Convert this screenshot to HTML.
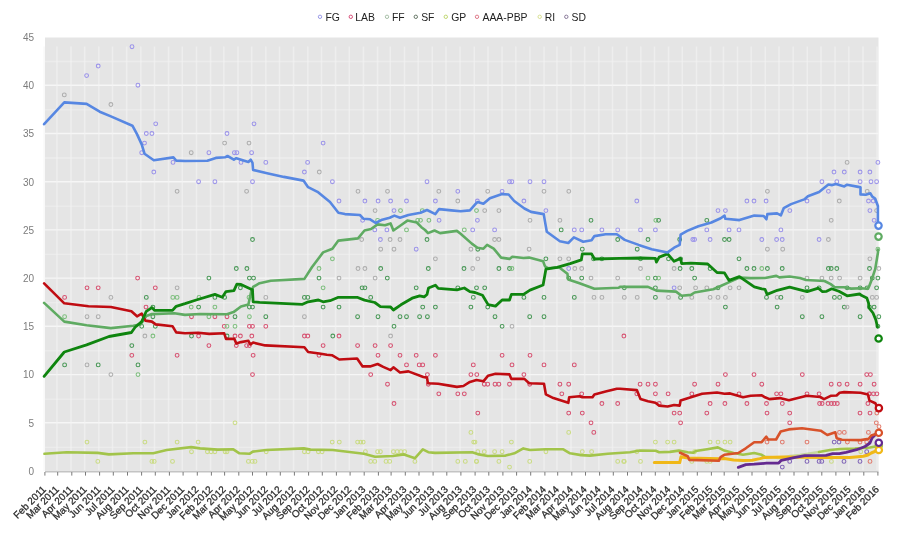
<!DOCTYPE html><html><head><meta charset="utf-8"><style>html,body{margin:0;padding:0;background:#fff;width:900px;height:536px;overflow:hidden}svg{display:block}</style></head><body>
<svg width="900" height="536" viewBox="0 0 900 536" font-family="Liberation Sans, Arial, sans-serif"><g><rect width="900" height="536" fill="#fff"/>
<rect x="45" y="37.5" width="833.5" height="433.5" fill="#e5e5e5"/>
<g><line x1="45" x2="878.5" y1="471.0" y2="471.0" stroke="#f6f6f6" stroke-width="1.4"/><line x1="45" x2="878.5" y1="447.3" y2="447.3" stroke="#f2f2f2" stroke-width="1.3" opacity="0.6"/><line x1="45" x2="878.5" y1="422.8" y2="422.8" stroke="#f6f6f6" stroke-width="1.4"/><line x1="45" x2="878.5" y1="399.1" y2="399.1" stroke="#f2f2f2" stroke-width="1.3" opacity="0.6"/><line x1="45" x2="878.5" y1="374.6" y2="374.6" stroke="#f6f6f6" stroke-width="1.4"/><line x1="45" x2="878.5" y1="350.8" y2="350.8" stroke="#f2f2f2" stroke-width="1.3" opacity="0.6"/><line x1="45" x2="878.5" y1="326.3" y2="326.3" stroke="#f6f6f6" stroke-width="1.4"/><line x1="45" x2="878.5" y1="302.6" y2="302.6" stroke="#f2f2f2" stroke-width="1.3" opacity="0.6"/><line x1="45" x2="878.5" y1="278.1" y2="278.1" stroke="#f6f6f6" stroke-width="1.4"/><line x1="45" x2="878.5" y1="254.4" y2="254.4" stroke="#f2f2f2" stroke-width="1.3" opacity="0.6"/><line x1="45" x2="878.5" y1="229.9" y2="229.9" stroke="#f6f6f6" stroke-width="1.4"/><line x1="45" x2="878.5" y1="206.2" y2="206.2" stroke="#f2f2f2" stroke-width="1.3" opacity="0.6"/><line x1="45" x2="878.5" y1="181.7" y2="181.7" stroke="#f6f6f6" stroke-width="1.4"/><line x1="45" x2="878.5" y1="158.0" y2="158.0" stroke="#f2f2f2" stroke-width="1.3" opacity="0.6"/><line x1="45" x2="878.5" y1="133.5" y2="133.5" stroke="#f6f6f6" stroke-width="1.4"/><line x1="45" x2="878.5" y1="109.8" y2="109.8" stroke="#f2f2f2" stroke-width="1.3" opacity="0.6"/><line x1="45" x2="878.5" y1="85.2" y2="85.2" stroke="#f6f6f6" stroke-width="1.4"/><line x1="45" x2="878.5" y1="61.5" y2="61.5" stroke="#f2f2f2" stroke-width="1.3" opacity="0.6"/><line x1="44.1" x2="44.1" y1="46.5" y2="471" stroke="#f4f4f4" stroke-width="1.5" opacity="0.6"/><line x1="56.9" x2="56.9" y1="46.5" y2="471" stroke="#f4f4f4" stroke-width="1.5" opacity="0.6"/><line x1="71.0" x2="71.0" y1="46.5" y2="471" stroke="#f4f4f4" stroke-width="1.5" opacity="0.6"/><line x1="84.7" x2="84.7" y1="46.5" y2="471" stroke="#f4f4f4" stroke-width="1.5" opacity="0.6"/><line x1="98.8" x2="98.8" y1="46.5" y2="471" stroke="#f4f4f4" stroke-width="1.5" opacity="0.6"/><line x1="112.5" x2="112.5" y1="46.5" y2="471" stroke="#f4f4f4" stroke-width="1.5" opacity="0.6"/><line x1="126.7" x2="126.7" y1="46.5" y2="471" stroke="#f4f4f4" stroke-width="1.5" opacity="0.6"/><line x1="140.8" x2="140.8" y1="46.5" y2="471" stroke="#f4f4f4" stroke-width="1.5" opacity="0.6"/><line x1="154.5" x2="154.5" y1="46.5" y2="471" stroke="#f4f4f4" stroke-width="1.5" opacity="0.6"/><line x1="168.6" x2="168.6" y1="46.5" y2="471" stroke="#f4f4f4" stroke-width="1.5" opacity="0.6"/><line x1="182.3" x2="182.3" y1="46.5" y2="471" stroke="#f4f4f4" stroke-width="1.5" opacity="0.6"/><line x1="196.5" x2="196.5" y1="46.5" y2="471" stroke="#f4f4f4" stroke-width="1.5" opacity="0.6"/><line x1="210.6" x2="210.6" y1="46.5" y2="471" stroke="#f4f4f4" stroke-width="1.5" opacity="0.6"/><line x1="223.8" x2="223.8" y1="46.5" y2="471" stroke="#f4f4f4" stroke-width="1.5" opacity="0.6"/><line x1="238.0" x2="238.0" y1="46.5" y2="471" stroke="#f4f4f4" stroke-width="1.5" opacity="0.6"/><line x1="251.7" x2="251.7" y1="46.5" y2="471" stroke="#f4f4f4" stroke-width="1.5" opacity="0.6"/><line x1="265.8" x2="265.8" y1="46.5" y2="471" stroke="#f4f4f4" stroke-width="1.5" opacity="0.6"/><line x1="279.5" x2="279.5" y1="46.5" y2="471" stroke="#f4f4f4" stroke-width="1.5" opacity="0.6"/><line x1="293.6" x2="293.6" y1="46.5" y2="471" stroke="#f4f4f4" stroke-width="1.5" opacity="0.6"/><line x1="307.8" x2="307.8" y1="46.5" y2="471" stroke="#f4f4f4" stroke-width="1.5" opacity="0.6"/><line x1="321.5" x2="321.5" y1="46.5" y2="471" stroke="#f4f4f4" stroke-width="1.5" opacity="0.6"/><line x1="335.6" x2="335.6" y1="46.5" y2="471" stroke="#f4f4f4" stroke-width="1.5" opacity="0.6"/><line x1="349.3" x2="349.3" y1="46.5" y2="471" stroke="#f4f4f4" stroke-width="1.5" opacity="0.6"/><line x1="363.4" x2="363.4" y1="46.5" y2="471" stroke="#f4f4f4" stroke-width="1.5" opacity="0.6"/><line x1="377.6" x2="377.6" y1="46.5" y2="471" stroke="#f4f4f4" stroke-width="1.5" opacity="0.6"/><line x1="390.3" x2="390.3" y1="46.5" y2="471" stroke="#f4f4f4" stroke-width="1.5" opacity="0.6"/><line x1="404.5" x2="404.5" y1="46.5" y2="471" stroke="#f4f4f4" stroke-width="1.5" opacity="0.6"/><line x1="418.2" x2="418.2" y1="46.5" y2="471" stroke="#f4f4f4" stroke-width="1.5" opacity="0.6"/><line x1="432.3" x2="432.3" y1="46.5" y2="471" stroke="#f4f4f4" stroke-width="1.5" opacity="0.6"/><line x1="446.0" x2="446.0" y1="46.5" y2="471" stroke="#f4f4f4" stroke-width="1.5" opacity="0.6"/><line x1="460.1" x2="460.1" y1="46.5" y2="471" stroke="#f4f4f4" stroke-width="1.5" opacity="0.6"/><line x1="474.3" x2="474.3" y1="46.5" y2="471" stroke="#f4f4f4" stroke-width="1.5" opacity="0.6"/><line x1="488.0" x2="488.0" y1="46.5" y2="471" stroke="#f4f4f4" stroke-width="1.5" opacity="0.6"/><line x1="502.1" x2="502.1" y1="46.5" y2="471" stroke="#f4f4f4" stroke-width="1.5" opacity="0.6"/><line x1="515.8" x2="515.8" y1="46.5" y2="471" stroke="#f4f4f4" stroke-width="1.5" opacity="0.6"/><line x1="529.9" x2="529.9" y1="46.5" y2="471" stroke="#f4f4f4" stroke-width="1.5" opacity="0.6"/><line x1="544.1" x2="544.1" y1="46.5" y2="471" stroke="#f4f4f4" stroke-width="1.5" opacity="0.6"/><line x1="556.9" x2="556.9" y1="46.5" y2="471" stroke="#f4f4f4" stroke-width="1.5" opacity="0.6"/><line x1="571.0" x2="571.0" y1="46.5" y2="471" stroke="#f4f4f4" stroke-width="1.5" opacity="0.6"/><line x1="584.7" x2="584.7" y1="46.5" y2="471" stroke="#f4f4f4" stroke-width="1.5" opacity="0.6"/><line x1="598.8" x2="598.8" y1="46.5" y2="471" stroke="#f4f4f4" stroke-width="1.5" opacity="0.6"/><line x1="612.5" x2="612.5" y1="46.5" y2="471" stroke="#f4f4f4" stroke-width="1.5" opacity="0.6"/><line x1="626.7" x2="626.7" y1="46.5" y2="471" stroke="#f4f4f4" stroke-width="1.5" opacity="0.6"/><line x1="640.8" x2="640.8" y1="46.5" y2="471" stroke="#f4f4f4" stroke-width="1.5" opacity="0.6"/><line x1="654.5" x2="654.5" y1="46.5" y2="471" stroke="#f4f4f4" stroke-width="1.5" opacity="0.6"/><line x1="668.6" x2="668.6" y1="46.5" y2="471" stroke="#f4f4f4" stroke-width="1.5" opacity="0.6"/><line x1="682.3" x2="682.3" y1="46.5" y2="471" stroke="#f4f4f4" stroke-width="1.5" opacity="0.6"/><line x1="696.5" x2="696.5" y1="46.5" y2="471" stroke="#f4f4f4" stroke-width="1.5" opacity="0.6"/><line x1="710.6" x2="710.6" y1="46.5" y2="471" stroke="#f4f4f4" stroke-width="1.5" opacity="0.6"/><line x1="723.4" x2="723.4" y1="46.5" y2="471" stroke="#f4f4f4" stroke-width="1.5" opacity="0.6"/><line x1="737.5" x2="737.5" y1="46.5" y2="471" stroke="#f4f4f4" stroke-width="1.5" opacity="0.6"/><line x1="751.2" x2="751.2" y1="46.5" y2="471" stroke="#f4f4f4" stroke-width="1.5" opacity="0.6"/><line x1="765.3" x2="765.3" y1="46.5" y2="471" stroke="#f4f4f4" stroke-width="1.5" opacity="0.6"/><line x1="779.0" x2="779.0" y1="46.5" y2="471" stroke="#f4f4f4" stroke-width="1.5" opacity="0.6"/><line x1="793.2" x2="793.2" y1="46.5" y2="471" stroke="#f4f4f4" stroke-width="1.5" opacity="0.6"/><line x1="807.3" x2="807.3" y1="46.5" y2="471" stroke="#f4f4f4" stroke-width="1.5" opacity="0.6"/><line x1="821.0" x2="821.0" y1="46.5" y2="471" stroke="#f4f4f4" stroke-width="1.5" opacity="0.6"/><line x1="835.1" x2="835.1" y1="46.5" y2="471" stroke="#f4f4f4" stroke-width="1.5" opacity="0.6"/><line x1="848.8" x2="848.8" y1="46.5" y2="471" stroke="#f4f4f4" stroke-width="1.5" opacity="0.6"/><line x1="863.0" x2="863.0" y1="46.5" y2="471" stroke="#f4f4f4" stroke-width="1.5" opacity="0.6"/><line x1="877.1" x2="877.1" y1="46.5" y2="471" stroke="#f4f4f4" stroke-width="1.5" opacity="0.6"/></g>
<g opacity="0.85"><circle cx="64.3" cy="94.9" r="1.9" fill="none" stroke="#a4a4a4" stroke-width="1.05"/><circle cx="86.6" cy="75.6" r="1.9" fill="none" stroke="#8f86ea" stroke-width="1.05"/><circle cx="98.2" cy="66.0" r="1.9" fill="none" stroke="#8f86ea" stroke-width="1.05"/><circle cx="110.9" cy="104.5" r="1.9" fill="none" stroke="#a4a4a4" stroke-width="1.05"/><circle cx="132.0" cy="46.7" r="1.9" fill="none" stroke="#8f86ea" stroke-width="1.05"/><circle cx="137.9" cy="85.2" r="1.9" fill="none" stroke="#8f86ea" stroke-width="1.05"/><circle cx="155.7" cy="123.8" r="1.9" fill="none" stroke="#8f86ea" stroke-width="1.05"/><circle cx="146.3" cy="133.5" r="1.9" fill="none" stroke="#8f86ea" stroke-width="1.05"/><circle cx="151.9" cy="133.5" r="1.9" fill="none" stroke="#8f86ea" stroke-width="1.05"/><circle cx="144.5" cy="143.1" r="1.9" fill="none" stroke="#8f86ea" stroke-width="1.05"/><circle cx="141.7" cy="152.7" r="1.9" fill="none" stroke="#8f86ea" stroke-width="1.05"/><circle cx="153.8" cy="172.0" r="1.9" fill="none" stroke="#8f86ea" stroke-width="1.05"/><circle cx="173.0" cy="162.4" r="1.9" fill="none" stroke="#8f86ea" stroke-width="1.05"/><circle cx="177.1" cy="191.3" r="1.9" fill="none" stroke="#a4a4a4" stroke-width="1.05"/><circle cx="254.0" cy="123.8" r="1.9" fill="none" stroke="#8f86ea" stroke-width="1.05"/><circle cx="227.0" cy="133.5" r="1.9" fill="none" stroke="#8f86ea" stroke-width="1.05"/><circle cx="224.6" cy="143.1" r="1.9" fill="none" stroke="#a4a4a4" stroke-width="1.05"/><circle cx="249.0" cy="143.1" r="1.9" fill="none" stroke="#a4a4a4" stroke-width="1.05"/><circle cx="323.1" cy="143.1" r="1.9" fill="none" stroke="#8f86ea" stroke-width="1.05"/><circle cx="191.2" cy="152.7" r="1.9" fill="none" stroke="#a4a4a4" stroke-width="1.05"/><circle cx="208.9" cy="152.7" r="1.9" fill="none" stroke="#8f86ea" stroke-width="1.05"/><circle cx="234.4" cy="152.7" r="1.9" fill="none" stroke="#8f86ea" stroke-width="1.05"/><circle cx="236.9" cy="152.7" r="1.9" fill="none" stroke="#8f86ea" stroke-width="1.05"/><circle cx="251.6" cy="152.7" r="1.9" fill="none" stroke="#8f86ea" stroke-width="1.05"/><circle cx="241.0" cy="162.4" r="1.9" fill="none" stroke="#8f86ea" stroke-width="1.05"/><circle cx="265.8" cy="162.4" r="1.9" fill="none" stroke="#8f86ea" stroke-width="1.05"/><circle cx="307.6" cy="162.4" r="1.9" fill="none" stroke="#8f86ea" stroke-width="1.05"/><circle cx="304.4" cy="172.0" r="1.9" fill="none" stroke="#8f86ea" stroke-width="1.05"/><circle cx="319.3" cy="172.0" r="1.9" fill="none" stroke="#a4a4a4" stroke-width="1.05"/><circle cx="198.6" cy="181.7" r="1.9" fill="none" stroke="#8f86ea" stroke-width="1.05"/><circle cx="214.9" cy="181.7" r="1.9" fill="none" stroke="#8f86ea" stroke-width="1.05"/><circle cx="252.5" cy="181.7" r="1.9" fill="none" stroke="#8f86ea" stroke-width="1.05"/><circle cx="332.4" cy="181.7" r="1.9" fill="none" stroke="#8f86ea" stroke-width="1.05"/><circle cx="246.6" cy="191.3" r="1.9" fill="none" stroke="#a4a4a4" stroke-width="1.05"/><circle cx="427.0" cy="181.7" r="1.9" fill="none" stroke="#8f86ea" stroke-width="1.05"/><circle cx="358.0" cy="191.3" r="1.9" fill="none" stroke="#a4a4a4" stroke-width="1.05"/><circle cx="387.5" cy="191.3" r="1.9" fill="none" stroke="#a4a4a4" stroke-width="1.05"/><circle cx="438.8" cy="191.3" r="1.9" fill="none" stroke="#a4a4a4" stroke-width="1.05"/><circle cx="457.8" cy="191.3" r="1.9" fill="none" stroke="#8f86ea" stroke-width="1.05"/><circle cx="339.0" cy="201.0" r="1.9" fill="none" stroke="#8f86ea" stroke-width="1.05"/><circle cx="364.9" cy="201.0" r="1.9" fill="none" stroke="#8f86ea" stroke-width="1.05"/><circle cx="378.1" cy="201.0" r="1.9" fill="none" stroke="#8f86ea" stroke-width="1.05"/><circle cx="390.6" cy="201.0" r="1.9" fill="none" stroke="#8f86ea" stroke-width="1.05"/><circle cx="406.5" cy="201.0" r="1.9" fill="none" stroke="#8f86ea" stroke-width="1.05"/><circle cx="435.4" cy="201.0" r="1.9" fill="none" stroke="#8f86ea" stroke-width="1.05"/><circle cx="457.8" cy="201.0" r="1.9" fill="none" stroke="#a4a4a4" stroke-width="1.05"/><circle cx="477.4" cy="201.0" r="1.9" fill="none" stroke="#8f86ea" stroke-width="1.05"/><circle cx="375.1" cy="210.6" r="1.9" fill="none" stroke="#a4a4a4" stroke-width="1.05"/><circle cx="394.0" cy="210.6" r="1.9" fill="none" stroke="#8f86ea" stroke-width="1.05"/><circle cx="400.5" cy="210.6" r="1.9" fill="none" stroke="#6cb86c" stroke-width="1.05"/><circle cx="422.3" cy="210.6" r="1.9" fill="none" stroke="#6cb86c" stroke-width="1.05"/><circle cx="476.5" cy="210.6" r="1.9" fill="none" stroke="#6cb86c" stroke-width="1.05"/><circle cx="362.6" cy="220.3" r="1.9" fill="none" stroke="#8f86ea" stroke-width="1.05"/><circle cx="377.6" cy="220.3" r="1.9" fill="none" stroke="#6cb86c" stroke-width="1.05"/><circle cx="417.7" cy="220.3" r="1.9" fill="none" stroke="#6cb86c" stroke-width="1.05"/><circle cx="420.5" cy="220.3" r="1.9" fill="none" stroke="#6cb86c" stroke-width="1.05"/><circle cx="428.9" cy="220.3" r="1.9" fill="none" stroke="#6cb86c" stroke-width="1.05"/><circle cx="439.1" cy="220.3" r="1.9" fill="none" stroke="#8f86ea" stroke-width="1.05"/><circle cx="477.4" cy="220.3" r="1.9" fill="none" stroke="#8f86ea" stroke-width="1.05"/><circle cx="509.5" cy="181.7" r="1.9" fill="none" stroke="#8f86ea" stroke-width="1.05"/><circle cx="511.9" cy="181.7" r="1.9" fill="none" stroke="#8f86ea" stroke-width="1.05"/><circle cx="530.0" cy="181.7" r="1.9" fill="none" stroke="#8f86ea" stroke-width="1.05"/><circle cx="544.0" cy="181.7" r="1.9" fill="none" stroke="#8f86ea" stroke-width="1.05"/><circle cx="487.7" cy="191.3" r="1.9" fill="none" stroke="#a4a4a4" stroke-width="1.05"/><circle cx="502.1" cy="191.3" r="1.9" fill="none" stroke="#8f86ea" stroke-width="1.05"/><circle cx="544.0" cy="191.3" r="1.9" fill="none" stroke="#a4a4a4" stroke-width="1.05"/><circle cx="568.8" cy="191.3" r="1.9" fill="none" stroke="#a4a4a4" stroke-width="1.05"/><circle cx="523.9" cy="201.0" r="1.9" fill="none" stroke="#8f86ea" stroke-width="1.05"/><circle cx="484.7" cy="210.6" r="1.9" fill="none" stroke="#a4a4a4" stroke-width="1.05"/><circle cx="498.9" cy="210.6" r="1.9" fill="none" stroke="#a4a4a4" stroke-width="1.05"/><circle cx="545.9" cy="210.6" r="1.9" fill="none" stroke="#8f86ea" stroke-width="1.05"/><circle cx="530.0" cy="220.3" r="1.9" fill="none" stroke="#a4a4a4" stroke-width="1.05"/><circle cx="559.9" cy="220.3" r="1.9" fill="none" stroke="#a4a4a4" stroke-width="1.05"/><circle cx="591.0" cy="220.3" r="1.9" fill="none" stroke="#2e8a3e" stroke-width="1.05"/><circle cx="636.8" cy="201.0" r="1.9" fill="none" stroke="#8f86ea" stroke-width="1.05"/><circle cx="746.9" cy="201.0" r="1.9" fill="none" stroke="#8f86ea" stroke-width="1.05"/><circle cx="754.0" cy="201.0" r="1.9" fill="none" stroke="#8f86ea" stroke-width="1.05"/><circle cx="766.1" cy="201.0" r="1.9" fill="none" stroke="#8f86ea" stroke-width="1.05"/><circle cx="767.4" cy="191.3" r="1.9" fill="none" stroke="#a4a4a4" stroke-width="1.05"/><circle cx="718.0" cy="210.6" r="1.9" fill="none" stroke="#8f86ea" stroke-width="1.05"/><circle cx="725.4" cy="210.6" r="1.9" fill="none" stroke="#8f86ea" stroke-width="1.05"/><circle cx="655.8" cy="220.3" r="1.9" fill="none" stroke="#6cb86c" stroke-width="1.05"/><circle cx="658.6" cy="220.3" r="1.9" fill="none" stroke="#2e8a3e" stroke-width="1.05"/><circle cx="706.8" cy="220.3" r="1.9" fill="none" stroke="#2e8a3e" stroke-width="1.05"/><circle cx="847.1" cy="162.4" r="1.9" fill="none" stroke="#a4a4a4" stroke-width="1.05"/><circle cx="877.9" cy="162.4" r="1.9" fill="none" stroke="#8f86ea" stroke-width="1.05"/><circle cx="834.0" cy="172.0" r="1.9" fill="none" stroke="#8f86ea" stroke-width="1.05"/><circle cx="844.3" cy="172.0" r="1.9" fill="none" stroke="#8f86ea" stroke-width="1.05"/><circle cx="860.1" cy="172.0" r="1.9" fill="none" stroke="#8f86ea" stroke-width="1.05"/><circle cx="869.9" cy="172.0" r="1.9" fill="none" stroke="#8f86ea" stroke-width="1.05"/><circle cx="821.9" cy="181.7" r="1.9" fill="none" stroke="#8f86ea" stroke-width="1.05"/><circle cx="836.8" cy="181.7" r="1.9" fill="none" stroke="#8f86ea" stroke-width="1.05"/><circle cx="860.1" cy="181.7" r="1.9" fill="none" stroke="#8f86ea" stroke-width="1.05"/><circle cx="871.0" cy="181.7" r="1.9" fill="none" stroke="#8f86ea" stroke-width="1.05"/><circle cx="876.6" cy="181.7" r="1.9" fill="none" stroke="#8f86ea" stroke-width="1.05"/><circle cx="828.4" cy="191.3" r="1.9" fill="none" stroke="#8f86ea" stroke-width="1.05"/><circle cx="867.2" cy="191.3" r="1.9" fill="none" stroke="#a4a4a4" stroke-width="1.05"/><circle cx="807.0" cy="201.0" r="1.9" fill="none" stroke="#8f86ea" stroke-width="1.05"/><circle cx="839.3" cy="201.0" r="1.9" fill="none" stroke="#a4a4a4" stroke-width="1.05"/><circle cx="868.5" cy="201.0" r="1.9" fill="none" stroke="#8f86ea" stroke-width="1.05"/><circle cx="873.2" cy="201.0" r="1.9" fill="none" stroke="#8f86ea" stroke-width="1.05"/><circle cx="789.8" cy="210.6" r="1.9" fill="none" stroke="#8f86ea" stroke-width="1.05"/><circle cx="869.9" cy="210.6" r="1.9" fill="none" stroke="#8f86ea" stroke-width="1.05"/><circle cx="876.6" cy="210.6" r="1.9" fill="none" stroke="#a4a4a4" stroke-width="1.05"/><circle cx="831.2" cy="220.3" r="1.9" fill="none" stroke="#a4a4a4" stroke-width="1.05"/><circle cx="874.1" cy="220.3" r="1.9" fill="none" stroke="#8f86ea" stroke-width="1.05"/><circle cx="137.6" cy="278.1" r="1.9" fill="none" stroke="#d43a5e" stroke-width="1.05"/><circle cx="87.0" cy="287.8" r="1.9" fill="none" stroke="#d43a5e" stroke-width="1.05"/><circle cx="98.2" cy="287.8" r="1.9" fill="none" stroke="#d43a5e" stroke-width="1.05"/><circle cx="155.3" cy="287.8" r="1.9" fill="none" stroke="#d43a5e" stroke-width="1.05"/><circle cx="177.1" cy="287.8" r="1.9" fill="none" stroke="#a4a4a4" stroke-width="1.05"/><circle cx="64.6" cy="297.4" r="1.9" fill="none" stroke="#d43a5e" stroke-width="1.05"/><circle cx="110.9" cy="297.4" r="1.9" fill="none" stroke="#a4a4a4" stroke-width="1.05"/><circle cx="146.3" cy="297.4" r="1.9" fill="none" stroke="#2e8a3e" stroke-width="1.05"/><circle cx="172.8" cy="297.4" r="1.9" fill="none" stroke="#6cb86c" stroke-width="1.05"/><circle cx="177.1" cy="297.4" r="1.9" fill="none" stroke="#6cb86c" stroke-width="1.05"/><circle cx="146.0" cy="307.1" r="1.9" fill="none" stroke="#d43a5e" stroke-width="1.05"/><circle cx="152.9" cy="307.1" r="1.9" fill="none" stroke="#2e8a3e" stroke-width="1.05"/><circle cx="64.6" cy="316.7" r="1.9" fill="none" stroke="#6cb86c" stroke-width="1.05"/><circle cx="87.0" cy="316.7" r="1.9" fill="none" stroke="#a4a4a4" stroke-width="1.05"/><circle cx="98.2" cy="316.7" r="1.9" fill="none" stroke="#a4a4a4" stroke-width="1.05"/><circle cx="152.9" cy="316.7" r="1.9" fill="none" stroke="#2e8a3e" stroke-width="1.05"/><circle cx="141.7" cy="326.3" r="1.9" fill="none" stroke="#2e8a3e" stroke-width="1.05"/><circle cx="155.3" cy="326.3" r="1.9" fill="none" stroke="#2e8a3e" stroke-width="1.05"/><circle cx="144.9" cy="336.0" r="1.9" fill="none" stroke="#a4a4a4" stroke-width="1.05"/><circle cx="152.9" cy="336.0" r="1.9" fill="none" stroke="#6cb86c" stroke-width="1.05"/><circle cx="131.8" cy="345.6" r="1.9" fill="none" stroke="#2e8a3e" stroke-width="1.05"/><circle cx="131.8" cy="355.3" r="1.9" fill="none" stroke="#d43a5e" stroke-width="1.05"/><circle cx="177.1" cy="355.3" r="1.9" fill="none" stroke="#d43a5e" stroke-width="1.05"/><circle cx="64.6" cy="364.9" r="1.9" fill="none" stroke="#2e8a3e" stroke-width="1.05"/><circle cx="87.0" cy="364.9" r="1.9" fill="none" stroke="#a4a4a4" stroke-width="1.05"/><circle cx="98.2" cy="364.9" r="1.9" fill="none" stroke="#2e8a3e" stroke-width="1.05"/><circle cx="138.0" cy="364.9" r="1.9" fill="none" stroke="#2e8a3e" stroke-width="1.05"/><circle cx="110.9" cy="374.6" r="1.9" fill="none" stroke="#a4a4a4" stroke-width="1.05"/><circle cx="138.0" cy="374.6" r="1.9" fill="none" stroke="#6cb86c" stroke-width="1.05"/><circle cx="252.5" cy="239.5" r="1.9" fill="none" stroke="#2e8a3e" stroke-width="1.05"/><circle cx="332.4" cy="258.8" r="1.9" fill="none" stroke="#6cb86c" stroke-width="1.05"/><circle cx="236.3" cy="268.5" r="1.9" fill="none" stroke="#2e8a3e" stroke-width="1.05"/><circle cx="246.9" cy="268.5" r="1.9" fill="none" stroke="#2e8a3e" stroke-width="1.05"/><circle cx="319.0" cy="268.5" r="1.9" fill="none" stroke="#6cb86c" stroke-width="1.05"/><circle cx="208.9" cy="278.1" r="1.9" fill="none" stroke="#2e8a3e" stroke-width="1.05"/><circle cx="249.4" cy="278.1" r="1.9" fill="none" stroke="#2e8a3e" stroke-width="1.05"/><circle cx="253.5" cy="278.1" r="1.9" fill="none" stroke="#2e8a3e" stroke-width="1.05"/><circle cx="319.0" cy="278.1" r="1.9" fill="none" stroke="#2e8a3e" stroke-width="1.05"/><circle cx="240.4" cy="287.8" r="1.9" fill="none" stroke="#2e8a3e" stroke-width="1.05"/><circle cx="323.1" cy="287.8" r="1.9" fill="none" stroke="#6cb86c" stroke-width="1.05"/><circle cx="199.0" cy="297.4" r="1.9" fill="none" stroke="#6cb86c" stroke-width="1.05"/><circle cx="214.9" cy="297.4" r="1.9" fill="none" stroke="#2e8a3e" stroke-width="1.05"/><circle cx="224.6" cy="297.4" r="1.9" fill="none" stroke="#2e8a3e" stroke-width="1.05"/><circle cx="249.0" cy="297.4" r="1.9" fill="none" stroke="#6cb86c" stroke-width="1.05"/><circle cx="265.8" cy="297.4" r="1.9" fill="none" stroke="#a4a4a4" stroke-width="1.05"/><circle cx="304.4" cy="297.4" r="1.9" fill="none" stroke="#2e8a3e" stroke-width="1.05"/><circle cx="307.8" cy="297.4" r="1.9" fill="none" stroke="#2e8a3e" stroke-width="1.05"/><circle cx="191.2" cy="307.1" r="1.9" fill="none" stroke="#6cb86c" stroke-width="1.05"/><circle cx="198.6" cy="307.1" r="1.9" fill="none" stroke="#2e8a3e" stroke-width="1.05"/><circle cx="214.9" cy="307.1" r="1.9" fill="none" stroke="#6cb86c" stroke-width="1.05"/><circle cx="249.4" cy="307.1" r="1.9" fill="none" stroke="#2e8a3e" stroke-width="1.05"/><circle cx="252.5" cy="307.1" r="1.9" fill="none" stroke="#2e8a3e" stroke-width="1.05"/><circle cx="323.1" cy="307.1" r="1.9" fill="none" stroke="#2e8a3e" stroke-width="1.05"/><circle cx="191.5" cy="316.7" r="1.9" fill="none" stroke="#d43a5e" stroke-width="1.05"/><circle cx="208.9" cy="316.7" r="1.9" fill="none" stroke="#6cb86c" stroke-width="1.05"/><circle cx="214.9" cy="316.7" r="1.9" fill="none" stroke="#d43a5e" stroke-width="1.05"/><circle cx="227.0" cy="316.7" r="1.9" fill="none" stroke="#d43a5e" stroke-width="1.05"/><circle cx="235.0" cy="316.7" r="1.9" fill="none" stroke="#2e8a3e" stroke-width="1.05"/><circle cx="249.4" cy="316.7" r="1.9" fill="none" stroke="#6cb86c" stroke-width="1.05"/><circle cx="265.8" cy="316.7" r="1.9" fill="none" stroke="#2e8a3e" stroke-width="1.05"/><circle cx="304.4" cy="316.7" r="1.9" fill="none" stroke="#a4a4a4" stroke-width="1.05"/><circle cx="224.2" cy="326.3" r="1.9" fill="none" stroke="#d43a5e" stroke-width="1.05"/><circle cx="227.0" cy="326.3" r="1.9" fill="none" stroke="#6cb86c" stroke-width="1.05"/><circle cx="235.0" cy="326.3" r="1.9" fill="none" stroke="#6cb86c" stroke-width="1.05"/><circle cx="249.4" cy="326.3" r="1.9" fill="none" stroke="#d43a5e" stroke-width="1.05"/><circle cx="252.5" cy="326.3" r="1.9" fill="none" stroke="#d43a5e" stroke-width="1.05"/><circle cx="265.8" cy="326.3" r="1.9" fill="none" stroke="#d43a5e" stroke-width="1.05"/><circle cx="191.5" cy="336.0" r="1.9" fill="none" stroke="#2e8a3e" stroke-width="1.05"/><circle cx="198.6" cy="336.0" r="1.9" fill="none" stroke="#d43a5e" stroke-width="1.05"/><circle cx="227.0" cy="336.0" r="1.9" fill="none" stroke="#2e8a3e" stroke-width="1.05"/><circle cx="235.0" cy="336.0" r="1.9" fill="none" stroke="#d43a5e" stroke-width="1.05"/><circle cx="240.4" cy="336.0" r="1.9" fill="none" stroke="#d43a5e" stroke-width="1.05"/><circle cx="251.8" cy="336.0" r="1.9" fill="none" stroke="#d43a5e" stroke-width="1.05"/><circle cx="304.4" cy="336.0" r="1.9" fill="none" stroke="#d43a5e" stroke-width="1.05"/><circle cx="307.8" cy="336.0" r="1.9" fill="none" stroke="#d43a5e" stroke-width="1.05"/><circle cx="332.8" cy="336.0" r="1.9" fill="none" stroke="#2e8a3e" stroke-width="1.05"/><circle cx="208.9" cy="345.6" r="1.9" fill="none" stroke="#d43a5e" stroke-width="1.05"/><circle cx="236.3" cy="345.6" r="1.9" fill="none" stroke="#d43a5e" stroke-width="1.05"/><circle cx="246.6" cy="345.6" r="1.9" fill="none" stroke="#d43a5e" stroke-width="1.05"/><circle cx="249.4" cy="345.6" r="1.9" fill="none" stroke="#d43a5e" stroke-width="1.05"/><circle cx="323.1" cy="345.6" r="1.9" fill="none" stroke="#d43a5e" stroke-width="1.05"/><circle cx="253.1" cy="355.3" r="1.9" fill="none" stroke="#d43a5e" stroke-width="1.05"/><circle cx="319.0" cy="355.3" r="1.9" fill="none" stroke="#d43a5e" stroke-width="1.05"/><circle cx="252.5" cy="374.6" r="1.9" fill="none" stroke="#d43a5e" stroke-width="1.05"/><circle cx="374.8" cy="229.9" r="1.9" fill="none" stroke="#8f86ea" stroke-width="1.05"/><circle cx="386.9" cy="229.9" r="1.9" fill="none" stroke="#8f86ea" stroke-width="1.05"/><circle cx="406.5" cy="229.9" r="1.9" fill="none" stroke="#6cb86c" stroke-width="1.05"/><circle cx="464.3" cy="229.9" r="1.9" fill="none" stroke="#6cb86c" stroke-width="1.05"/><circle cx="472.7" cy="229.9" r="1.9" fill="none" stroke="#8f86ea" stroke-width="1.05"/><circle cx="361.7" cy="239.5" r="1.9" fill="none" stroke="#a4a4a4" stroke-width="1.05"/><circle cx="380.4" cy="239.5" r="1.9" fill="none" stroke="#8f86ea" stroke-width="1.05"/><circle cx="390.1" cy="239.5" r="1.9" fill="none" stroke="#a4a4a4" stroke-width="1.05"/><circle cx="400.0" cy="239.5" r="1.9" fill="none" stroke="#a4a4a4" stroke-width="1.05"/><circle cx="427.0" cy="239.5" r="1.9" fill="none" stroke="#2e8a3e" stroke-width="1.05"/><circle cx="380.7" cy="249.2" r="1.9" fill="none" stroke="#a4a4a4" stroke-width="1.05"/><circle cx="394.0" cy="249.2" r="1.9" fill="none" stroke="#a4a4a4" stroke-width="1.05"/><circle cx="416.2" cy="249.2" r="1.9" fill="none" stroke="#8f86ea" stroke-width="1.05"/><circle cx="470.9" cy="249.2" r="1.9" fill="none" stroke="#a4a4a4" stroke-width="1.05"/><circle cx="477.8" cy="249.2" r="1.9" fill="none" stroke="#2e8a3e" stroke-width="1.05"/><circle cx="435.4" cy="258.8" r="1.9" fill="none" stroke="#a4a4a4" stroke-width="1.05"/><circle cx="477.8" cy="258.8" r="1.9" fill="none" stroke="#a4a4a4" stroke-width="1.05"/><circle cx="358.0" cy="268.5" r="1.9" fill="none" stroke="#a4a4a4" stroke-width="1.05"/><circle cx="364.9" cy="268.5" r="1.9" fill="none" stroke="#a4a4a4" stroke-width="1.05"/><circle cx="380.7" cy="268.5" r="1.9" fill="none" stroke="#2e8a3e" stroke-width="1.05"/><circle cx="428.3" cy="268.5" r="1.9" fill="none" stroke="#2e8a3e" stroke-width="1.05"/><circle cx="464.0" cy="268.5" r="1.9" fill="none" stroke="#2e8a3e" stroke-width="1.05"/><circle cx="472.7" cy="268.5" r="1.9" fill="none" stroke="#a4a4a4" stroke-width="1.05"/><circle cx="339.0" cy="278.1" r="1.9" fill="none" stroke="#a4a4a4" stroke-width="1.05"/><circle cx="375.1" cy="278.1" r="1.9" fill="none" stroke="#a4a4a4" stroke-width="1.05"/><circle cx="387.3" cy="278.1" r="1.9" fill="none" stroke="#2e8a3e" stroke-width="1.05"/><circle cx="362.1" cy="287.8" r="1.9" fill="none" stroke="#2e8a3e" stroke-width="1.05"/><circle cx="364.9" cy="287.8" r="1.9" fill="none" stroke="#2e8a3e" stroke-width="1.05"/><circle cx="416.2" cy="287.8" r="1.9" fill="none" stroke="#2e8a3e" stroke-width="1.05"/><circle cx="457.8" cy="287.8" r="1.9" fill="none" stroke="#2e8a3e" stroke-width="1.05"/><circle cx="476.5" cy="287.8" r="1.9" fill="none" stroke="#2e8a3e" stroke-width="1.05"/><circle cx="370.7" cy="297.4" r="1.9" fill="none" stroke="#2e8a3e" stroke-width="1.05"/><circle cx="473.3" cy="297.4" r="1.9" fill="none" stroke="#2e8a3e" stroke-width="1.05"/><circle cx="339.0" cy="307.1" r="1.9" fill="none" stroke="#2e8a3e" stroke-width="1.05"/><circle cx="422.7" cy="307.1" r="1.9" fill="none" stroke="#2e8a3e" stroke-width="1.05"/><circle cx="435.4" cy="307.1" r="1.9" fill="none" stroke="#2e8a3e" stroke-width="1.05"/><circle cx="470.9" cy="307.1" r="1.9" fill="none" stroke="#2e8a3e" stroke-width="1.05"/><circle cx="357.6" cy="316.7" r="1.9" fill="none" stroke="#2e8a3e" stroke-width="1.05"/><circle cx="378.0" cy="316.7" r="1.9" fill="none" stroke="#2e8a3e" stroke-width="1.05"/><circle cx="400.0" cy="316.7" r="1.9" fill="none" stroke="#2e8a3e" stroke-width="1.05"/><circle cx="406.5" cy="316.7" r="1.9" fill="none" stroke="#2e8a3e" stroke-width="1.05"/><circle cx="419.6" cy="316.7" r="1.9" fill="none" stroke="#2e8a3e" stroke-width="1.05"/><circle cx="427.4" cy="316.7" r="1.9" fill="none" stroke="#2e8a3e" stroke-width="1.05"/><circle cx="394.0" cy="326.3" r="1.9" fill="none" stroke="#2e8a3e" stroke-width="1.05"/><circle cx="339.0" cy="336.0" r="1.9" fill="none" stroke="#d43a5e" stroke-width="1.05"/><circle cx="390.6" cy="336.0" r="1.9" fill="none" stroke="#a4a4a4" stroke-width="1.05"/><circle cx="357.6" cy="345.6" r="1.9" fill="none" stroke="#d43a5e" stroke-width="1.05"/><circle cx="375.1" cy="345.6" r="1.9" fill="none" stroke="#d43a5e" stroke-width="1.05"/><circle cx="390.6" cy="345.6" r="1.9" fill="none" stroke="#d43a5e" stroke-width="1.05"/><circle cx="378.0" cy="355.3" r="1.9" fill="none" stroke="#d43a5e" stroke-width="1.05"/><circle cx="400.0" cy="355.3" r="1.9" fill="none" stroke="#d43a5e" stroke-width="1.05"/><circle cx="416.2" cy="355.3" r="1.9" fill="none" stroke="#d43a5e" stroke-width="1.05"/><circle cx="435.4" cy="355.3" r="1.9" fill="none" stroke="#d43a5e" stroke-width="1.05"/><circle cx="406.5" cy="364.9" r="1.9" fill="none" stroke="#d43a5e" stroke-width="1.05"/><circle cx="419.2" cy="364.9" r="1.9" fill="none" stroke="#d43a5e" stroke-width="1.05"/><circle cx="422.7" cy="364.9" r="1.9" fill="none" stroke="#d43a5e" stroke-width="1.05"/><circle cx="473.3" cy="364.9" r="1.9" fill="none" stroke="#d43a5e" stroke-width="1.05"/><circle cx="370.7" cy="374.6" r="1.9" fill="none" stroke="#d43a5e" stroke-width="1.05"/><circle cx="427.4" cy="374.6" r="1.9" fill="none" stroke="#d43a5e" stroke-width="1.05"/><circle cx="470.9" cy="374.6" r="1.9" fill="none" stroke="#d43a5e" stroke-width="1.05"/><circle cx="476.8" cy="374.6" r="1.9" fill="none" stroke="#d43a5e" stroke-width="1.05"/><circle cx="387.5" cy="384.2" r="1.9" fill="none" stroke="#d43a5e" stroke-width="1.05"/><circle cx="428.3" cy="384.2" r="1.9" fill="none" stroke="#d43a5e" stroke-width="1.05"/><circle cx="438.8" cy="393.8" r="1.9" fill="none" stroke="#d43a5e" stroke-width="1.05"/><circle cx="457.8" cy="393.8" r="1.9" fill="none" stroke="#d43a5e" stroke-width="1.05"/><circle cx="464.3" cy="393.8" r="1.9" fill="none" stroke="#d43a5e" stroke-width="1.05"/><circle cx="394.0" cy="403.5" r="1.9" fill="none" stroke="#d43a5e" stroke-width="1.05"/><circle cx="477.8" cy="413.1" r="1.9" fill="none" stroke="#d43a5e" stroke-width="1.05"/><circle cx="470.9" cy="432.4" r="1.9" fill="none" stroke="#c6da74" stroke-width="1.05"/><circle cx="332.2" cy="442.1" r="1.9" fill="none" stroke="#c6da74" stroke-width="1.05"/><circle cx="339.3" cy="442.1" r="1.9" fill="none" stroke="#c6da74" stroke-width="1.05"/><circle cx="357.6" cy="442.1" r="1.9" fill="none" stroke="#c6da74" stroke-width="1.05"/><circle cx="360.8" cy="442.1" r="1.9" fill="none" stroke="#c6da74" stroke-width="1.05"/><circle cx="363.2" cy="442.1" r="1.9" fill="none" stroke="#c6da74" stroke-width="1.05"/><circle cx="473.7" cy="442.1" r="1.9" fill="none" stroke="#c6da74" stroke-width="1.05"/><circle cx="365.4" cy="451.7" r="1.9" fill="none" stroke="#c6da74" stroke-width="1.05"/><circle cx="377.6" cy="451.7" r="1.9" fill="none" stroke="#c6da74" stroke-width="1.05"/><circle cx="380.4" cy="451.7" r="1.9" fill="none" stroke="#c6da74" stroke-width="1.05"/><circle cx="393.4" cy="451.7" r="1.9" fill="none" stroke="#c6da74" stroke-width="1.05"/><circle cx="397.2" cy="451.7" r="1.9" fill="none" stroke="#c6da74" stroke-width="1.05"/><circle cx="400.9" cy="451.7" r="1.9" fill="none" stroke="#c6da74" stroke-width="1.05"/><circle cx="404.6" cy="451.7" r="1.9" fill="none" stroke="#c6da74" stroke-width="1.05"/><circle cx="370.7" cy="461.4" r="1.9" fill="none" stroke="#c6da74" stroke-width="1.05"/><circle cx="374.8" cy="461.4" r="1.9" fill="none" stroke="#c6da74" stroke-width="1.05"/><circle cx="386.0" cy="461.4" r="1.9" fill="none" stroke="#c6da74" stroke-width="1.05"/><circle cx="389.7" cy="461.4" r="1.9" fill="none" stroke="#c6da74" stroke-width="1.05"/><circle cx="414.9" cy="461.4" r="1.9" fill="none" stroke="#c6da74" stroke-width="1.05"/><circle cx="457.8" cy="461.4" r="1.9" fill="none" stroke="#c6da74" stroke-width="1.05"/><circle cx="465.3" cy="461.4" r="1.9" fill="none" stroke="#c6da74" stroke-width="1.05"/><circle cx="476.5" cy="461.4" r="1.9" fill="none" stroke="#c6da74" stroke-width="1.05"/><circle cx="87.0" cy="442.1" r="1.9" fill="none" stroke="#c6da74" stroke-width="1.05"/><circle cx="144.9" cy="442.1" r="1.9" fill="none" stroke="#c6da74" stroke-width="1.05"/><circle cx="177.1" cy="442.1" r="1.9" fill="none" stroke="#c6da74" stroke-width="1.05"/><circle cx="97.8" cy="461.4" r="1.9" fill="none" stroke="#c6da74" stroke-width="1.05"/><circle cx="151.9" cy="461.4" r="1.9" fill="none" stroke="#c6da74" stroke-width="1.05"/><circle cx="154.2" cy="461.4" r="1.9" fill="none" stroke="#c6da74" stroke-width="1.05"/><circle cx="172.5" cy="461.4" r="1.9" fill="none" stroke="#c6da74" stroke-width="1.05"/><circle cx="235.0" cy="422.8" r="1.9" fill="none" stroke="#c6da74" stroke-width="1.05"/><circle cx="198.1" cy="442.1" r="1.9" fill="none" stroke="#c6da74" stroke-width="1.05"/><circle cx="191.5" cy="451.7" r="1.9" fill="none" stroke="#c6da74" stroke-width="1.05"/><circle cx="207.4" cy="451.7" r="1.9" fill="none" stroke="#c6da74" stroke-width="1.05"/><circle cx="211.1" cy="451.7" r="1.9" fill="none" stroke="#c6da74" stroke-width="1.05"/><circle cx="214.9" cy="451.7" r="1.9" fill="none" stroke="#c6da74" stroke-width="1.05"/><circle cx="225.1" cy="451.7" r="1.9" fill="none" stroke="#c6da74" stroke-width="1.05"/><circle cx="227.0" cy="451.7" r="1.9" fill="none" stroke="#c6da74" stroke-width="1.05"/><circle cx="266.2" cy="451.7" r="1.9" fill="none" stroke="#c6da74" stroke-width="1.05"/><circle cx="304.4" cy="451.7" r="1.9" fill="none" stroke="#c6da74" stroke-width="1.05"/><circle cx="308.1" cy="451.7" r="1.9" fill="none" stroke="#c6da74" stroke-width="1.05"/><circle cx="318.4" cy="451.7" r="1.9" fill="none" stroke="#c6da74" stroke-width="1.05"/><circle cx="322.1" cy="451.7" r="1.9" fill="none" stroke="#c6da74" stroke-width="1.05"/><circle cx="248.4" cy="461.4" r="1.9" fill="none" stroke="#c6da74" stroke-width="1.05"/><circle cx="252.2" cy="461.4" r="1.9" fill="none" stroke="#c6da74" stroke-width="1.05"/><circle cx="255.0" cy="461.4" r="1.9" fill="none" stroke="#c6da74" stroke-width="1.05"/><circle cx="494.6" cy="229.9" r="1.9" fill="none" stroke="#8f86ea" stroke-width="1.05"/><circle cx="561.2" cy="229.9" r="1.9" fill="none" stroke="#2e8a3e" stroke-width="1.05"/><circle cx="574.3" cy="229.9" r="1.9" fill="none" stroke="#8f86ea" stroke-width="1.05"/><circle cx="581.7" cy="229.9" r="1.9" fill="none" stroke="#8f86ea" stroke-width="1.05"/><circle cx="601.9" cy="229.9" r="1.9" fill="none" stroke="#8f86ea" stroke-width="1.05"/><circle cx="617.7" cy="229.9" r="1.9" fill="none" stroke="#8f86ea" stroke-width="1.05"/><circle cx="494.6" cy="239.5" r="1.9" fill="none" stroke="#a4a4a4" stroke-width="1.05"/><circle cx="498.9" cy="239.5" r="1.9" fill="none" stroke="#a4a4a4" stroke-width="1.05"/><circle cx="617.7" cy="239.5" r="1.9" fill="none" stroke="#2e8a3e" stroke-width="1.05"/><circle cx="529.1" cy="249.2" r="1.9" fill="none" stroke="#a4a4a4" stroke-width="1.05"/><circle cx="582.3" cy="249.2" r="1.9" fill="none" stroke="#2e8a3e" stroke-width="1.05"/><circle cx="545.9" cy="258.8" r="1.9" fill="none" stroke="#2e8a3e" stroke-width="1.05"/><circle cx="559.9" cy="258.8" r="1.9" fill="none" stroke="#a4a4a4" stroke-width="1.05"/><circle cx="568.7" cy="258.8" r="1.9" fill="none" stroke="#a4a4a4" stroke-width="1.05"/><circle cx="593.5" cy="258.8" r="1.9" fill="none" stroke="#2e8a3e" stroke-width="1.05"/><circle cx="601.9" cy="258.8" r="1.9" fill="none" stroke="#2e8a3e" stroke-width="1.05"/><circle cx="498.9" cy="268.5" r="1.9" fill="none" stroke="#2e8a3e" stroke-width="1.05"/><circle cx="509.5" cy="268.5" r="1.9" fill="none" stroke="#2e8a3e" stroke-width="1.05"/><circle cx="511.9" cy="268.5" r="1.9" fill="none" stroke="#6cb86c" stroke-width="1.05"/><circle cx="568.7" cy="268.5" r="1.9" fill="none" stroke="#8f86ea" stroke-width="1.05"/><circle cx="574.8" cy="268.5" r="1.9" fill="none" stroke="#a4a4a4" stroke-width="1.05"/><circle cx="581.7" cy="268.5" r="1.9" fill="none" stroke="#a4a4a4" stroke-width="1.05"/><circle cx="568.7" cy="278.1" r="1.9" fill="none" stroke="#2e8a3e" stroke-width="1.05"/><circle cx="581.7" cy="278.1" r="1.9" fill="none" stroke="#2e8a3e" stroke-width="1.05"/><circle cx="591.0" cy="278.1" r="1.9" fill="none" stroke="#a4a4a4" stroke-width="1.05"/><circle cx="617.7" cy="278.1" r="1.9" fill="none" stroke="#a4a4a4" stroke-width="1.05"/><circle cx="484.7" cy="287.8" r="1.9" fill="none" stroke="#2e8a3e" stroke-width="1.05"/><circle cx="624.3" cy="287.8" r="1.9" fill="none" stroke="#2e8a3e" stroke-width="1.05"/><circle cx="523.9" cy="297.4" r="1.9" fill="none" stroke="#2e8a3e" stroke-width="1.05"/><circle cx="544.0" cy="297.4" r="1.9" fill="none" stroke="#2e8a3e" stroke-width="1.05"/><circle cx="574.3" cy="297.4" r="1.9" fill="none" stroke="#2e8a3e" stroke-width="1.05"/><circle cx="594.0" cy="297.4" r="1.9" fill="none" stroke="#a4a4a4" stroke-width="1.05"/><circle cx="601.9" cy="297.4" r="1.9" fill="none" stroke="#a4a4a4" stroke-width="1.05"/><circle cx="624.3" cy="297.4" r="1.9" fill="none" stroke="#a4a4a4" stroke-width="1.05"/><circle cx="487.7" cy="307.1" r="1.9" fill="none" stroke="#2e8a3e" stroke-width="1.05"/><circle cx="495.0" cy="316.7" r="1.9" fill="none" stroke="#2e8a3e" stroke-width="1.05"/><circle cx="529.7" cy="316.7" r="1.9" fill="none" stroke="#2e8a3e" stroke-width="1.05"/><circle cx="544.0" cy="316.7" r="1.9" fill="none" stroke="#2e8a3e" stroke-width="1.05"/><circle cx="502.1" cy="326.3" r="1.9" fill="none" stroke="#2e8a3e" stroke-width="1.05"/><circle cx="512.0" cy="326.3" r="1.9" fill="none" stroke="#a4a4a4" stroke-width="1.05"/><circle cx="623.9" cy="336.0" r="1.9" fill="none" stroke="#d43a5e" stroke-width="1.05"/><circle cx="502.1" cy="355.3" r="1.9" fill="none" stroke="#d43a5e" stroke-width="1.05"/><circle cx="530.0" cy="355.3" r="1.9" fill="none" stroke="#d43a5e" stroke-width="1.05"/><circle cx="512.0" cy="364.9" r="1.9" fill="none" stroke="#d43a5e" stroke-width="1.05"/><circle cx="544.0" cy="364.9" r="1.9" fill="none" stroke="#d43a5e" stroke-width="1.05"/><circle cx="574.3" cy="364.9" r="1.9" fill="none" stroke="#d43a5e" stroke-width="1.05"/><circle cx="523.9" cy="374.6" r="1.9" fill="none" stroke="#d43a5e" stroke-width="1.05"/><circle cx="484.3" cy="384.2" r="1.9" fill="none" stroke="#d43a5e" stroke-width="1.05"/><circle cx="487.7" cy="384.2" r="1.9" fill="none" stroke="#d43a5e" stroke-width="1.05"/><circle cx="495.0" cy="384.2" r="1.9" fill="none" stroke="#d43a5e" stroke-width="1.05"/><circle cx="498.9" cy="384.2" r="1.9" fill="none" stroke="#d43a5e" stroke-width="1.05"/><circle cx="509.5" cy="384.2" r="1.9" fill="none" stroke="#d43a5e" stroke-width="1.05"/><circle cx="529.7" cy="384.2" r="1.9" fill="none" stroke="#d43a5e" stroke-width="1.05"/><circle cx="559.9" cy="384.2" r="1.9" fill="none" stroke="#d43a5e" stroke-width="1.05"/><circle cx="568.7" cy="384.2" r="1.9" fill="none" stroke="#d43a5e" stroke-width="1.05"/><circle cx="561.8" cy="393.8" r="1.9" fill="none" stroke="#d43a5e" stroke-width="1.05"/><circle cx="581.7" cy="393.8" r="1.9" fill="none" stroke="#d43a5e" stroke-width="1.05"/><circle cx="601.9" cy="403.5" r="1.9" fill="none" stroke="#d43a5e" stroke-width="1.05"/><circle cx="617.7" cy="403.5" r="1.9" fill="none" stroke="#d43a5e" stroke-width="1.05"/><circle cx="568.7" cy="413.1" r="1.9" fill="none" stroke="#d43a5e" stroke-width="1.05"/><circle cx="582.3" cy="413.1" r="1.9" fill="none" stroke="#d43a5e" stroke-width="1.05"/><circle cx="591.0" cy="422.8" r="1.9" fill="none" stroke="#d43a5e" stroke-width="1.05"/><circle cx="568.7" cy="432.4" r="1.9" fill="none" stroke="#c6da74" stroke-width="1.05"/><circle cx="593.8" cy="432.4" r="1.9" fill="none" stroke="#d43a5e" stroke-width="1.05"/><circle cx="511.4" cy="442.1" r="1.9" fill="none" stroke="#c6da74" stroke-width="1.05"/><circle cx="475.0" cy="442.1" r="1.9" fill="none" stroke="#c6da74" stroke-width="1.05"/><circle cx="477.8" cy="451.7" r="1.9" fill="none" stroke="#c6da74" stroke-width="1.05"/><circle cx="484.3" cy="451.7" r="1.9" fill="none" stroke="#c6da74" stroke-width="1.05"/><circle cx="494.6" cy="451.7" r="1.9" fill="none" stroke="#c6da74" stroke-width="1.05"/><circle cx="502.1" cy="451.7" r="1.9" fill="none" stroke="#c6da74" stroke-width="1.05"/><circle cx="545.9" cy="451.7" r="1.9" fill="none" stroke="#c6da74" stroke-width="1.05"/><circle cx="582.3" cy="451.7" r="1.9" fill="none" stroke="#c6da74" stroke-width="1.05"/><circle cx="591.6" cy="451.7" r="1.9" fill="none" stroke="#c6da74" stroke-width="1.05"/><circle cx="476.5" cy="461.4" r="1.9" fill="none" stroke="#c6da74" stroke-width="1.05"/><circle cx="498.9" cy="461.4" r="1.9" fill="none" stroke="#c6da74" stroke-width="1.05"/><circle cx="529.7" cy="461.4" r="1.9" fill="none" stroke="#c6da74" stroke-width="1.05"/><circle cx="617.7" cy="461.4" r="1.9" fill="none" stroke="#c6da74" stroke-width="1.05"/><circle cx="624.3" cy="461.4" r="1.9" fill="none" stroke="#c6da74" stroke-width="1.05"/><circle cx="509.5" cy="467.1" r="1.9" fill="none" stroke="#c6da74" stroke-width="1.05"/><circle cx="640.5" cy="229.9" r="1.9" fill="none" stroke="#8f86ea" stroke-width="1.05"/><circle cx="655.4" cy="229.9" r="1.9" fill="none" stroke="#8f86ea" stroke-width="1.05"/><circle cx="706.8" cy="229.9" r="1.9" fill="none" stroke="#8f86ea" stroke-width="1.05"/><circle cx="729.1" cy="229.9" r="1.9" fill="none" stroke="#8f86ea" stroke-width="1.05"/><circle cx="739.0" cy="229.9" r="1.9" fill="none" stroke="#8f86ea" stroke-width="1.05"/><circle cx="648.0" cy="239.5" r="1.9" fill="none" stroke="#2e8a3e" stroke-width="1.05"/><circle cx="679.7" cy="239.5" r="1.9" fill="none" stroke="#2e8a3e" stroke-width="1.05"/><circle cx="692.8" cy="239.5" r="1.9" fill="none" stroke="#8f86ea" stroke-width="1.05"/><circle cx="694.6" cy="239.5" r="1.9" fill="none" stroke="#8f86ea" stroke-width="1.05"/><circle cx="710.1" cy="239.5" r="1.9" fill="none" stroke="#8f86ea" stroke-width="1.05"/><circle cx="724.5" cy="239.5" r="1.9" fill="none" stroke="#2e8a3e" stroke-width="1.05"/><circle cx="729.1" cy="239.5" r="1.9" fill="none" stroke="#2e8a3e" stroke-width="1.05"/><circle cx="761.8" cy="239.5" r="1.9" fill="none" stroke="#8f86ea" stroke-width="1.05"/><circle cx="637.2" cy="249.2" r="1.9" fill="none" stroke="#2e8a3e" stroke-width="1.05"/><circle cx="767.4" cy="249.2" r="1.9" fill="none" stroke="#a4a4a4" stroke-width="1.05"/><circle cx="640.5" cy="258.8" r="1.9" fill="none" stroke="#2e8a3e" stroke-width="1.05"/><circle cx="668.5" cy="258.8" r="1.9" fill="none" stroke="#2e8a3e" stroke-width="1.05"/><circle cx="680.6" cy="258.8" r="1.9" fill="none" stroke="#2e8a3e" stroke-width="1.05"/><circle cx="739.0" cy="258.8" r="1.9" fill="none" stroke="#2e8a3e" stroke-width="1.05"/><circle cx="640.5" cy="268.5" r="1.9" fill="none" stroke="#a4a4a4" stroke-width="1.05"/><circle cx="674.1" cy="268.5" r="1.9" fill="none" stroke="#a4a4a4" stroke-width="1.05"/><circle cx="680.1" cy="268.5" r="1.9" fill="none" stroke="#2e8a3e" stroke-width="1.05"/><circle cx="691.8" cy="268.5" r="1.9" fill="none" stroke="#2e8a3e" stroke-width="1.05"/><circle cx="710.1" cy="268.5" r="1.9" fill="none" stroke="#2e8a3e" stroke-width="1.05"/><circle cx="746.9" cy="268.5" r="1.9" fill="none" stroke="#2e8a3e" stroke-width="1.05"/><circle cx="754.0" cy="268.5" r="1.9" fill="none" stroke="#2e8a3e" stroke-width="1.05"/><circle cx="761.8" cy="268.5" r="1.9" fill="none" stroke="#6cb86c" stroke-width="1.05"/><circle cx="767.4" cy="268.5" r="1.9" fill="none" stroke="#2e8a3e" stroke-width="1.05"/><circle cx="648.0" cy="278.1" r="1.9" fill="none" stroke="#6cb86c" stroke-width="1.05"/><circle cx="655.4" cy="278.1" r="1.9" fill="none" stroke="#2e8a3e" stroke-width="1.05"/><circle cx="658.6" cy="278.1" r="1.9" fill="none" stroke="#6cb86c" stroke-width="1.05"/><circle cx="694.6" cy="278.1" r="1.9" fill="none" stroke="#2e8a3e" stroke-width="1.05"/><circle cx="655.4" cy="287.8" r="1.9" fill="none" stroke="#2e8a3e" stroke-width="1.05"/><circle cx="674.1" cy="287.8" r="1.9" fill="none" stroke="#8f86ea" stroke-width="1.05"/><circle cx="679.7" cy="287.8" r="1.9" fill="none" stroke="#a4a4a4" stroke-width="1.05"/><circle cx="695.6" cy="287.8" r="1.9" fill="none" stroke="#a4a4a4" stroke-width="1.05"/><circle cx="706.8" cy="287.8" r="1.9" fill="none" stroke="#a4a4a4" stroke-width="1.05"/><circle cx="718.0" cy="287.8" r="1.9" fill="none" stroke="#2e8a3e" stroke-width="1.05"/><circle cx="730.1" cy="287.8" r="1.9" fill="none" stroke="#a4a4a4" stroke-width="1.05"/><circle cx="739.0" cy="287.8" r="1.9" fill="none" stroke="#a4a4a4" stroke-width="1.05"/><circle cx="637.2" cy="297.4" r="1.9" fill="none" stroke="#a4a4a4" stroke-width="1.05"/><circle cx="655.4" cy="297.4" r="1.9" fill="none" stroke="#2e8a3e" stroke-width="1.05"/><circle cx="668.5" cy="297.4" r="1.9" fill="none" stroke="#a4a4a4" stroke-width="1.05"/><circle cx="680.6" cy="297.4" r="1.9" fill="none" stroke="#2e8a3e" stroke-width="1.05"/><circle cx="691.8" cy="297.4" r="1.9" fill="none" stroke="#a4a4a4" stroke-width="1.05"/><circle cx="710.1" cy="297.4" r="1.9" fill="none" stroke="#a4a4a4" stroke-width="1.05"/><circle cx="718.0" cy="297.4" r="1.9" fill="none" stroke="#a4a4a4" stroke-width="1.05"/><circle cx="725.4" cy="297.4" r="1.9" fill="none" stroke="#a4a4a4" stroke-width="1.05"/><circle cx="766.5" cy="297.4" r="1.9" fill="none" stroke="#2e8a3e" stroke-width="1.05"/><circle cx="725.4" cy="307.1" r="1.9" fill="none" stroke="#2e8a3e" stroke-width="1.05"/><circle cx="725.4" cy="374.6" r="1.9" fill="none" stroke="#d43a5e" stroke-width="1.05"/><circle cx="754.0" cy="374.6" r="1.9" fill="none" stroke="#d43a5e" stroke-width="1.05"/><circle cx="640.1" cy="384.2" r="1.9" fill="none" stroke="#d43a5e" stroke-width="1.05"/><circle cx="648.0" cy="384.2" r="1.9" fill="none" stroke="#d43a5e" stroke-width="1.05"/><circle cx="655.4" cy="384.2" r="1.9" fill="none" stroke="#d43a5e" stroke-width="1.05"/><circle cx="694.6" cy="384.2" r="1.9" fill="none" stroke="#d43a5e" stroke-width="1.05"/><circle cx="718.0" cy="384.2" r="1.9" fill="none" stroke="#d43a5e" stroke-width="1.05"/><circle cx="761.8" cy="384.2" r="1.9" fill="none" stroke="#d43a5e" stroke-width="1.05"/><circle cx="655.4" cy="393.8" r="1.9" fill="none" stroke="#d43a5e" stroke-width="1.05"/><circle cx="668.1" cy="393.8" r="1.9" fill="none" stroke="#d43a5e" stroke-width="1.05"/><circle cx="691.8" cy="393.8" r="1.9" fill="none" stroke="#d43a5e" stroke-width="1.05"/><circle cx="739.0" cy="393.8" r="1.9" fill="none" stroke="#d43a5e" stroke-width="1.05"/><circle cx="636.8" cy="393.8" r="1.9" fill="none" stroke="#d43a5e" stroke-width="1.05"/><circle cx="659.2" cy="403.5" r="1.9" fill="none" stroke="#d43a5e" stroke-width="1.05"/><circle cx="710.1" cy="403.5" r="1.9" fill="none" stroke="#d43a5e" stroke-width="1.05"/><circle cx="724.9" cy="403.5" r="1.9" fill="none" stroke="#d43a5e" stroke-width="1.05"/><circle cx="746.9" cy="403.5" r="1.9" fill="none" stroke="#d43a5e" stroke-width="1.05"/><circle cx="766.5" cy="403.5" r="1.9" fill="none" stroke="#d43a5e" stroke-width="1.05"/><circle cx="674.1" cy="413.1" r="1.9" fill="none" stroke="#d43a5e" stroke-width="1.05"/><circle cx="679.7" cy="413.1" r="1.9" fill="none" stroke="#d43a5e" stroke-width="1.05"/><circle cx="706.8" cy="413.1" r="1.9" fill="none" stroke="#d43a5e" stroke-width="1.05"/><circle cx="767.0" cy="413.1" r="1.9" fill="none" stroke="#d43a5e" stroke-width="1.05"/><circle cx="680.6" cy="422.8" r="1.9" fill="none" stroke="#d43a5e" stroke-width="1.05"/><circle cx="655.4" cy="442.1" r="1.9" fill="none" stroke="#c6da74" stroke-width="1.05"/><circle cx="667.6" cy="442.1" r="1.9" fill="none" stroke="#c6da74" stroke-width="1.05"/><circle cx="674.1" cy="442.1" r="1.9" fill="none" stroke="#c6da74" stroke-width="1.05"/><circle cx="710.1" cy="442.1" r="1.9" fill="none" stroke="#c6da74" stroke-width="1.05"/><circle cx="718.0" cy="442.1" r="1.9" fill="none" stroke="#c6da74" stroke-width="1.05"/><circle cx="724.9" cy="442.1" r="1.9" fill="none" stroke="#c6da74" stroke-width="1.05"/><circle cx="730.1" cy="442.1" r="1.9" fill="none" stroke="#c6da74" stroke-width="1.05"/><circle cx="767.0" cy="442.1" r="1.9" fill="none" stroke="#e06a5a" stroke-width="1.05"/><circle cx="636.8" cy="451.7" r="1.9" fill="none" stroke="#c6da74" stroke-width="1.05"/><circle cx="694.6" cy="451.7" r="1.9" fill="none" stroke="#c6da74" stroke-width="1.05"/><circle cx="623.7" cy="461.4" r="1.9" fill="none" stroke="#c6da74" stroke-width="1.05"/><circle cx="640.5" cy="461.4" r="1.9" fill="none" stroke="#c6da74" stroke-width="1.05"/><circle cx="691.8" cy="461.4" r="1.9" fill="none" stroke="#c6da74" stroke-width="1.05"/><circle cx="706.8" cy="461.4" r="1.9" fill="none" stroke="#c6da74" stroke-width="1.05"/><circle cx="710.1" cy="461.4" r="1.9" fill="none" stroke="#c6da74" stroke-width="1.05"/><circle cx="780.9" cy="229.9" r="1.9" fill="none" stroke="#8f86ea" stroke-width="1.05"/><circle cx="776.6" cy="239.5" r="1.9" fill="none" stroke="#8f86ea" stroke-width="1.05"/><circle cx="782.2" cy="239.5" r="1.9" fill="none" stroke="#8f86ea" stroke-width="1.05"/><circle cx="819.1" cy="239.5" r="1.9" fill="none" stroke="#8f86ea" stroke-width="1.05"/><circle cx="828.4" cy="239.5" r="1.9" fill="none" stroke="#a4a4a4" stroke-width="1.05"/><circle cx="782.7" cy="249.2" r="1.9" fill="none" stroke="#a4a4a4" stroke-width="1.05"/><circle cx="877.9" cy="249.2" r="1.9" fill="none" stroke="#6cb86c" stroke-width="1.05"/><circle cx="869.9" cy="258.8" r="1.9" fill="none" stroke="#a4a4a4" stroke-width="1.05"/><circle cx="782.2" cy="268.5" r="1.9" fill="none" stroke="#2e8a3e" stroke-width="1.05"/><circle cx="828.4" cy="268.5" r="1.9" fill="none" stroke="#2e8a3e" stroke-width="1.05"/><circle cx="831.2" cy="268.5" r="1.9" fill="none" stroke="#2e8a3e" stroke-width="1.05"/><circle cx="836.8" cy="268.5" r="1.9" fill="none" stroke="#2e8a3e" stroke-width="1.05"/><circle cx="869.5" cy="268.5" r="1.9" fill="none" stroke="#2e8a3e" stroke-width="1.05"/><circle cx="878.8" cy="268.5" r="1.9" fill="none" stroke="#a4a4a4" stroke-width="1.05"/><circle cx="807.0" cy="278.1" r="1.9" fill="none" stroke="#a4a4a4" stroke-width="1.05"/><circle cx="821.9" cy="278.1" r="1.9" fill="none" stroke="#a4a4a4" stroke-width="1.05"/><circle cx="831.2" cy="278.1" r="1.9" fill="none" stroke="#a4a4a4" stroke-width="1.05"/><circle cx="839.6" cy="278.1" r="1.9" fill="none" stroke="#a4a4a4" stroke-width="1.05"/><circle cx="860.1" cy="278.1" r="1.9" fill="none" stroke="#a4a4a4" stroke-width="1.05"/><circle cx="872.3" cy="278.1" r="1.9" fill="none" stroke="#2e8a3e" stroke-width="1.05"/><circle cx="877.9" cy="278.1" r="1.9" fill="none" stroke="#2e8a3e" stroke-width="1.05"/><circle cx="807.0" cy="287.8" r="1.9" fill="none" stroke="#2e8a3e" stroke-width="1.05"/><circle cx="819.1" cy="287.8" r="1.9" fill="none" stroke="#2e8a3e" stroke-width="1.05"/><circle cx="847.1" cy="287.8" r="1.9" fill="none" stroke="#2e8a3e" stroke-width="1.05"/><circle cx="860.1" cy="287.8" r="1.9" fill="none" stroke="#2e8a3e" stroke-width="1.05"/><circle cx="867.2" cy="287.8" r="1.9" fill="none" stroke="#2e8a3e" stroke-width="1.05"/><circle cx="876.6" cy="287.8" r="1.9" fill="none" stroke="#2e8a3e" stroke-width="1.05"/><circle cx="777.1" cy="297.4" r="1.9" fill="none" stroke="#a4a4a4" stroke-width="1.05"/><circle cx="780.9" cy="297.4" r="1.9" fill="none" stroke="#2e8a3e" stroke-width="1.05"/><circle cx="802.3" cy="297.4" r="1.9" fill="none" stroke="#a4a4a4" stroke-width="1.05"/><circle cx="834.4" cy="297.4" r="1.9" fill="none" stroke="#2e8a3e" stroke-width="1.05"/><circle cx="839.6" cy="297.4" r="1.9" fill="none" stroke="#2e8a3e" stroke-width="1.05"/><circle cx="872.3" cy="297.4" r="1.9" fill="none" stroke="#a4a4a4" stroke-width="1.05"/><circle cx="876.6" cy="297.4" r="1.9" fill="none" stroke="#a4a4a4" stroke-width="1.05"/><circle cx="777.1" cy="307.1" r="1.9" fill="none" stroke="#2e8a3e" stroke-width="1.05"/><circle cx="844.3" cy="307.1" r="1.9" fill="none" stroke="#2e8a3e" stroke-width="1.05"/><circle cx="847.1" cy="307.1" r="1.9" fill="none" stroke="#a4a4a4" stroke-width="1.05"/><circle cx="869.5" cy="307.1" r="1.9" fill="none" stroke="#2e8a3e" stroke-width="1.05"/><circle cx="874.1" cy="307.1" r="1.9" fill="none" stroke="#2e8a3e" stroke-width="1.05"/><circle cx="802.3" cy="316.7" r="1.9" fill="none" stroke="#2e8a3e" stroke-width="1.05"/><circle cx="821.9" cy="316.7" r="1.9" fill="none" stroke="#2e8a3e" stroke-width="1.05"/><circle cx="860.1" cy="316.7" r="1.9" fill="none" stroke="#2e8a3e" stroke-width="1.05"/><circle cx="878.8" cy="316.7" r="1.9" fill="none" stroke="#2e8a3e" stroke-width="1.05"/><circle cx="877.9" cy="326.3" r="1.9" fill="none" stroke="#2e8a3e" stroke-width="1.05"/><circle cx="802.3" cy="374.6" r="1.9" fill="none" stroke="#d43a5e" stroke-width="1.05"/><circle cx="866.7" cy="374.6" r="1.9" fill="none" stroke="#d43a5e" stroke-width="1.05"/><circle cx="870.4" cy="374.6" r="1.9" fill="none" stroke="#d43a5e" stroke-width="1.05"/><circle cx="831.2" cy="384.2" r="1.9" fill="none" stroke="#d43a5e" stroke-width="1.05"/><circle cx="839.3" cy="384.2" r="1.9" fill="none" stroke="#d43a5e" stroke-width="1.05"/><circle cx="847.1" cy="384.2" r="1.9" fill="none" stroke="#d43a5e" stroke-width="1.05"/><circle cx="860.1" cy="384.2" r="1.9" fill="none" stroke="#d43a5e" stroke-width="1.05"/><circle cx="874.1" cy="384.2" r="1.9" fill="none" stroke="#d43a5e" stroke-width="1.05"/><circle cx="776.6" cy="393.8" r="1.9" fill="none" stroke="#d43a5e" stroke-width="1.05"/><circle cx="780.9" cy="393.8" r="1.9" fill="none" stroke="#d43a5e" stroke-width="1.05"/><circle cx="807.0" cy="393.8" r="1.9" fill="none" stroke="#d43a5e" stroke-width="1.05"/><circle cx="819.1" cy="393.8" r="1.9" fill="none" stroke="#d43a5e" stroke-width="1.05"/><circle cx="869.5" cy="393.8" r="1.9" fill="none" stroke="#d43a5e" stroke-width="1.05"/><circle cx="876.9" cy="393.8" r="1.9" fill="none" stroke="#d43a5e" stroke-width="1.05"/><circle cx="869.2" cy="393.8" r="1.9" fill="none" stroke="#d43a5e" stroke-width="1.05"/><circle cx="873.5" cy="393.8" r="1.9" fill="none" stroke="#d43a5e" stroke-width="1.05"/><circle cx="782.3" cy="403.5" r="1.9" fill="none" stroke="#d43a5e" stroke-width="1.05"/><circle cx="819.6" cy="403.5" r="1.9" fill="none" stroke="#d43a5e" stroke-width="1.05"/><circle cx="822.1" cy="403.5" r="1.9" fill="none" stroke="#d43a5e" stroke-width="1.05"/><circle cx="828.0" cy="403.5" r="1.9" fill="none" stroke="#d43a5e" stroke-width="1.05"/><circle cx="831.4" cy="403.5" r="1.9" fill="none" stroke="#d43a5e" stroke-width="1.05"/><circle cx="834.2" cy="403.5" r="1.9" fill="none" stroke="#d43a5e" stroke-width="1.05"/><circle cx="837.3" cy="403.5" r="1.9" fill="none" stroke="#d43a5e" stroke-width="1.05"/><circle cx="867.9" cy="403.5" r="1.9" fill="none" stroke="#d43a5e" stroke-width="1.05"/><circle cx="789.7" cy="413.1" r="1.9" fill="none" stroke="#d43a5e" stroke-width="1.05"/><circle cx="860.0" cy="413.1" r="1.9" fill="none" stroke="#d43a5e" stroke-width="1.05"/><circle cx="870.0" cy="413.1" r="1.9" fill="none" stroke="#d43a5e" stroke-width="1.05"/><circle cx="876.8" cy="413.1" r="1.9" fill="none" stroke="#e06a5a" stroke-width="1.05"/><circle cx="789.7" cy="422.8" r="1.9" fill="none" stroke="#d43a5e" stroke-width="1.05"/><circle cx="876.3" cy="422.8" r="1.9" fill="none" stroke="#e06a5a" stroke-width="1.05"/><circle cx="879.0" cy="426.6" r="1.9" fill="none" stroke="#e06a5a" stroke-width="1.05"/><circle cx="839.5" cy="432.4" r="1.9" fill="none" stroke="#e06a5a" stroke-width="1.05"/><circle cx="844.3" cy="432.4" r="1.9" fill="none" stroke="#e06a5a" stroke-width="1.05"/><circle cx="868.4" cy="432.4" r="1.9" fill="none" stroke="#e06a5a" stroke-width="1.05"/><circle cx="782.3" cy="442.1" r="1.9" fill="none" stroke="#e06a5a" stroke-width="1.05"/><circle cx="807.0" cy="442.1" r="1.9" fill="none" stroke="#e06a5a" stroke-width="1.05"/><circle cx="834.2" cy="442.1" r="1.9" fill="none" stroke="#7050b0" stroke-width="1.05"/><circle cx="839.0" cy="442.1" r="1.9" fill="none" stroke="#7050b0" stroke-width="1.05"/><circle cx="847.4" cy="442.1" r="1.9" fill="none" stroke="#e06a5a" stroke-width="1.05"/><circle cx="860.0" cy="442.1" r="1.9" fill="none" stroke="#e06a5a" stroke-width="1.05"/><circle cx="866.7" cy="442.1" r="1.9" fill="none" stroke="#e06a5a" stroke-width="1.05"/><circle cx="866.7" cy="451.7" r="1.9" fill="none" stroke="#7050b0" stroke-width="1.05"/><circle cx="860.8" cy="451.7" r="1.9" fill="none" stroke="#c6da74" stroke-width="1.05"/><circle cx="789.7" cy="461.4" r="1.9" fill="none" stroke="#7050b0" stroke-width="1.05"/><circle cx="807.0" cy="461.4" r="1.9" fill="none" stroke="#7050b0" stroke-width="1.05"/><circle cx="819.1" cy="461.4" r="1.9" fill="none" stroke="#7050b0" stroke-width="1.05"/><circle cx="821.8" cy="461.4" r="1.9" fill="none" stroke="#7050b0" stroke-width="1.05"/><circle cx="831.4" cy="461.4" r="1.9" fill="none" stroke="#c6da74" stroke-width="1.05"/><circle cx="844.0" cy="461.4" r="1.9" fill="none" stroke="#7050b0" stroke-width="1.05"/><circle cx="860.0" cy="461.4" r="1.9" fill="none" stroke="#7050b0" stroke-width="1.05"/><circle cx="870.0" cy="461.4" r="1.9" fill="none" stroke="#e06a5a" stroke-width="1.05"/><circle cx="782.3" cy="467.1" r="1.9" fill="none" stroke="#7050b0" stroke-width="1.05"/></g>
<polyline opacity="0.45" points="764.4,456.7 772.8,457.2 780.3,458.1 790.0,456.0 800.0,455.0 819.0,452.0" fill="none" stroke="#a2c44a" stroke-width="2.6" stroke-linejoin="round" stroke-linecap="round"/>
<polyline points="819.0,452.0 830.0,450.0 840.0,449.0 855.0,448.5 870.0,447.5 878.0,446.0" fill="none" stroke="#a2c44a" stroke-width="2.6" stroke-linejoin="round" stroke-linecap="round"/>
<polyline points="44.5,453.8 66.7,452.2 97.8,452.9 108.9,454.4 133.3,453.3 153.3,453.3 166.7,450.0 191.1,447.1 200.0,448.4 217.8,449.6 233.3,449.3 239.4,453.3 249.4,453.8 252.8,451.6 266.1,450.0 303.9,448.4 310.6,449.6 332.8,450.0 363.9,453.8 375.0,456.7 392.8,456.0 403.9,454.4 415.0,458.2 422.8,449.3 428.3,452.2 435.0,452.9 472.2,452.2 478.9,454.4 487.8,456.0 505.6,455.6 514.4,453.3 523.3,448.4 530.0,450.0 545.6,449.3 563.3,449.3 570.0,453.3 581.1,455.1 590.0,455.6 607.8,453.8 630.0,452.2 640.0,450.5 655.7,450.8 659.2,452.3 669.9,451.9 678.8,450.6 687.7,452.3 693.0,452.8 695.7,451.0 707.2,449.2 717.9,447.4 724.3,450.6 733.6,453.0 743.0,454.8 754.2,453.0 761.6,454.8 764.4,456.7" fill="none" stroke="#a2c44a" stroke-width="2.6" stroke-linejoin="round" stroke-linecap="round"/>
<polyline points="654.3,462.6 679.7,462.6 681.0,456.8 687.7,457.9 719.7,458.8 724.3,458.6 733.6,460.0 743.0,460.6 752.3,460.2 759.8,458.6 764.4,457.4 783.3,457.0 823.3,457.4 850.0,457.4 863.3,456.3 868.0,455.0 871.3,453.0 876.7,450.7" fill="none" stroke="#f0b818" stroke-width="3.0" stroke-linejoin="round" stroke-linecap="round"/>
<polyline points="738.3,467.4 745.8,464.6 754.2,464.2 766.3,463.2 778.7,463.0 781.3,460.3 794.0,457.7 804.7,455.7 826.0,455.4 832.7,453.7 839.3,453.7 846.0,452.3 856.7,449.7 865.0,446.5 870.0,443.0 872.0,438.0 876.0,434.0" fill="none" stroke="#642a90" stroke-width="2.8" stroke-linejoin="round" stroke-linecap="round"/>
<polyline points="680.1,452.8 687.7,456.3 689.4,459.9 718.8,460.8 720.6,457.2 724.3,454.8 738.3,453.0 745.8,448.3 754.2,442.2 761.6,442.2 766.3,436.7 768.1,439.5 776.1,439.5 780.7,431.5 788.7,429.4 802.0,428.3 820.7,430.7 827.3,435.0 835.3,432.3 836.7,438.3 842.0,439.7 860.7,440.1 868.7,438.7 871.3,435.5 876.7,433.7" fill="none" stroke="#d8522a" stroke-width="2.6" stroke-linejoin="round" stroke-linecap="round"/>
<polyline points="44.1,302.9 64.3,321.6 86.6,325.3 110.9,328.1 133.3,325.7 140.7,324.4 146.3,316.0 151.9,314.1 174.3,313.2 185.0,314.9 199.9,314.0 227.0,314.3 233.5,312.1 241.0,306.5 248.4,304.6 251.2,291.6 253.1,286.9 259.6,283.2 270.8,280.7 304.4,278.9 311.9,267.3 323.1,252.4 332.4,248.7 338.4,240.6 344.9,239.9 358.0,238.4 364.5,230.5 371.0,229.0 377.6,224.4 385.0,225.3 390.6,223.4 393.4,230.5 400.9,225.3 407.4,220.6 416.8,222.5 421.4,227.2 425.1,230.0 428.0,233.1 434.5,230.5 440.1,233.1 456.9,230.9 460.6,233.7 471.8,243.6 477.4,247.7 483.4,248.7 487.1,244.9 493.7,248.7 501.1,257.6 509.5,258.9 512.3,256.7 523.5,258.0 529.1,257.6 543.1,261.3 545.0,266.4 547.8,268.2 559.0,267.3 567.4,273.8 568.3,279.4 579.5,283.2 594.4,288.8 618.7,287.8 620.0,286.9 648.0,286.9 656.4,290.6 676.0,291.6 681.6,295.7 690.9,294.9 694.6,292.5 713.3,289.3 720.7,286.0 728.2,282.6 739.4,277.6 750.6,278.1 765.0,278.0 776.3,275.9 779.4,277.4 789.6,276.5 799.9,278.0 806.0,280.0 824.5,281.0 830.7,284.1 834.8,287.2 844.0,287.2 851.2,288.6 860.7,288.2 867.4,288.7 869.1,286.5 871.9,279.2 875.2,269.1 878.0,252.3 878.0,249.5" fill="none" stroke="#5fab62" stroke-width="2.6" stroke-linejoin="round" stroke-linecap="round"/>
<polyline points="44.1,283.3 64.3,303.3 88.5,306.3 110.9,307.0 131.4,311.3 137.0,316.3 141.7,313.7 145.4,320.6 151.9,321.6 155.7,324.4 172.5,326.2 176.2,332.4 185.0,333.3 198.1,332.8 209.3,333.9 224.2,333.3 226.0,338.9 234.4,338.9 236.3,343.6 241.0,342.1 248.4,340.8 250.3,344.5 253.1,342.6 265.2,345.4 304.4,347.3 308.1,352.0 319.3,353.5 326.8,354.8 331.9,355.2 339.3,359.5 357.1,358.5 362.6,366.4 370.1,366.4 377.6,364.0 383.2,366.9 390.6,370.1 393.4,367.3 400.0,372.5 408.4,371.4 423.3,377.0 427.0,377.6 427.9,383.2 438.2,383.7 449.4,385.6 456.9,386.9 463.4,386.0 469.9,381.9 476.5,380.0 483.4,381.3 488.1,375.7 495.5,373.8 509.5,374.4 511.4,378.9 524.4,378.9 529.1,383.2 544.0,383.7 545.9,394.4 553.4,398.1 568.3,402.8 569.2,397.2 579.5,396.2 582.3,397.2 592.5,397.2 594.4,394.4 605.6,391.6 616.8,388.8 620.0,388.8 636.8,390.1 640.5,399.0 648.0,401.3 655.4,402.8 659.2,405.6 667.6,406.5 674.1,405.0 679.7,405.6 680.6,400.5 690.9,397.2 702.1,393.8 717.0,392.5 724.5,393.8 730.1,393.4 743.1,397.2 750.6,395.7 761.8,395.3 765.0,397.3 769.5,399.1 779.9,398.1 788.9,400.3 806.8,395.8 820.2,397.0 824.0,399.1 830.7,395.8 836.6,395.5 839.6,392.8 844.1,392.1 860.5,392.8 868.0,394.6 869.5,400.6 875.4,403.3 876.9,406.3 877.7,410.7" fill="none" stroke="#c00c12" stroke-width="2.6" stroke-linejoin="round" stroke-linecap="round"/>
<polyline points="44.1,376.3 64.3,352.0 86.6,344.9 109.0,336.5 131.4,332.5 135.1,327.2 141.7,321.6 146.3,311.3 151.9,307.6 154.7,310.4 172.5,310.4 176.2,306.3 185.0,303.7 196.2,300.0 214.9,294.4 222.3,297.2 226.0,291.6 233.9,290.6 236.9,284.1 241.0,284.5 251.2,289.3 252.5,289.7 253.1,301.8 259.6,302.4 302.5,304.3 308.1,301.8 318.4,300.0 323.1,301.8 330.0,300.7 338.4,297.3 357.1,297.3 364.5,300.1 374.8,302.5 380.4,306.6 390.6,307.0 393.4,310.0 400.9,304.8 412.1,298.2 419.6,295.8 424.2,296.8 427.0,294.5 428.5,288.0 435.4,285.2 438.2,288.4 456.9,289.9 464.3,288.0 469.9,291.7 475.0,292.5 482.5,295.3 488.1,304.6 495.5,306.1 502.1,300.0 509.5,300.0 511.4,294.4 523.5,294.4 530.0,290.1 543.1,285.0 545.9,269.2 557.1,267.3 570.1,263.6 581.3,259.9 582.3,253.9 591.6,253.9 594.4,259.0 620.0,258.4 640.5,258.0 655.4,258.4 656.4,262.1 659.2,257.1 667.6,253.9 674.1,261.3 680.6,258.4 681.6,263.6 690.9,263.2 707.7,264.0 717.0,272.5 724.5,272.9 729.1,280.4 739.4,276.6 754.3,286.9 761.8,288.8 765.0,289.3 767.1,294.4 777.3,290.3 789.6,287.2 807.1,291.7 818.4,288.2 822.5,291.7 826.6,291.3 831.7,288.8 838.9,291.3 847.1,295.8 859.6,294.0 861.8,295.6 866.8,297.9 868.5,302.9 869.1,308.0 873.0,313.0 875.8,319.7 877.5,327.0" fill="none" stroke="#0f850f" stroke-width="2.8" stroke-linejoin="round" stroke-linecap="round"/>
<polyline points="44.1,124.2 64.3,102.4 86.6,103.9 99.7,111.7 110.9,116.4 132.4,125.7 137.0,134.1 141.7,144.4 144.5,153.7 153.8,160.2 173.4,157.4 176.2,160.6 185.0,161.0 207.4,160.7 215.8,157.9 225.1,157.3 227.5,156.0 233.9,159.6 236.3,158.2 248.4,162.0 250.7,159.7 252.5,162.9 253.1,170.0 267.1,173.2 283.9,176.9 303.5,180.6 308.1,187.2 317.5,191.8 330.0,202.0 338.4,212.8 344.9,214.1 359.9,215.0 363.6,218.8 370.1,219.3 375.7,223.0 382.2,219.7 389.7,217.8 394.4,215.6 400.0,217.8 408.4,215.0 420.5,212.8 427.0,210.0 435.4,214.1 439.1,209.1 451.3,210.4 460.6,211.3 469.9,210.4 476.5,202.9 477.8,202.0 483.4,203.8 489.9,198.2 502.1,194.1 508.6,194.5 514.2,201.0 524.4,208.5 531.0,211.9 543.7,214.1 545.0,221.6 546.8,231.8 559.9,241.2 568.3,243.0 573.9,237.4 583.2,241.7 591.6,240.2 594.4,236.1 605.6,234.3 616.8,234.3 624.7,239.9 638.7,244.9 651.7,249.2 667.6,252.4 674.1,247.7 679.7,244.9 680.6,234.6 687.2,230.9 698.4,226.2 711.4,222.5 720.7,218.2 724.5,215.6 725.4,218.8 739.4,220.1 754.3,215.6 763.7,216.0 766.4,219.3 767.4,214.1 777.1,213.4 780.9,215.3 783.7,208.2 791.1,204.1 804.2,199.4 807.9,196.3 819.1,192.0 828.4,184.5 832.2,185.1 835.9,184.0 844.3,186.4 847.1,184.7 858.3,186.9 860.5,187.3 860.5,194.4 865.7,194.8 870.4,193.3 872.3,196.6 875.1,198.5 877.9,206.0 877.9,224.3" fill="none" stroke="#5787e2" stroke-width="2.6" stroke-linejoin="round" stroke-linecap="round"/>
<circle cx="878.8" cy="445.5" r="3.2" fill="#fff" stroke="#a2c44a" stroke-width="2.2"/>
<circle cx="878.8" cy="450.0" r="3.2" fill="#fff" stroke="#f0b818" stroke-width="2.2"/>
<circle cx="878.8" cy="442.8" r="3.2" fill="#fff" stroke="#642a90" stroke-width="2.2"/>
<circle cx="878.8" cy="432.8" r="3.2" fill="#fff" stroke="#d8522a" stroke-width="2.2"/>
<circle cx="878.9" cy="408.1" r="3.2" fill="#fff" stroke="#c00c12" stroke-width="2.2"/>
<circle cx="878.6" cy="338.5" r="3.2" fill="#fff" stroke="#0f850f" stroke-width="2.2"/>
<circle cx="878.5" cy="236.6" r="3.2" fill="#fff" stroke="#5fab62" stroke-width="2.2"/>
<circle cx="878.5" cy="225.6" r="3.2" fill="#fff" stroke="#5787e2" stroke-width="2.2"/>
<line x1="45" x2="878.5" y1="471.6" y2="471.6" stroke="#c4c4c4" stroke-width="1.8"/>
<line x1="44.9" x2="44.9" y1="472" y2="475.6" stroke="#7a7a7a" stroke-width="1"/><line x1="57.7" x2="57.7" y1="472" y2="475.6" stroke="#7a7a7a" stroke-width="1"/><line x1="71.8" x2="71.8" y1="472" y2="475.6" stroke="#7a7a7a" stroke-width="1"/><line x1="85.5" x2="85.5" y1="472" y2="475.6" stroke="#7a7a7a" stroke-width="1"/><line x1="99.6" x2="99.6" y1="472" y2="475.6" stroke="#7a7a7a" stroke-width="1"/><line x1="113.3" x2="113.3" y1="472" y2="475.6" stroke="#7a7a7a" stroke-width="1"/><line x1="127.5" x2="127.5" y1="472" y2="475.6" stroke="#7a7a7a" stroke-width="1"/><line x1="141.6" x2="141.6" y1="472" y2="475.6" stroke="#7a7a7a" stroke-width="1"/><line x1="155.3" x2="155.3" y1="472" y2="475.6" stroke="#7a7a7a" stroke-width="1"/><line x1="169.4" x2="169.4" y1="472" y2="475.6" stroke="#7a7a7a" stroke-width="1"/><line x1="183.1" x2="183.1" y1="472" y2="475.6" stroke="#7a7a7a" stroke-width="1"/><line x1="197.3" x2="197.3" y1="472" y2="475.6" stroke="#7a7a7a" stroke-width="1"/><line x1="211.4" x2="211.4" y1="472" y2="475.6" stroke="#7a7a7a" stroke-width="1"/><line x1="224.6" x2="224.6" y1="472" y2="475.6" stroke="#7a7a7a" stroke-width="1"/><line x1="238.8" x2="238.8" y1="472" y2="475.6" stroke="#7a7a7a" stroke-width="1"/><line x1="252.5" x2="252.5" y1="472" y2="475.6" stroke="#7a7a7a" stroke-width="1"/><line x1="266.6" x2="266.6" y1="472" y2="475.6" stroke="#7a7a7a" stroke-width="1"/><line x1="280.3" x2="280.3" y1="472" y2="475.6" stroke="#7a7a7a" stroke-width="1"/><line x1="294.4" x2="294.4" y1="472" y2="475.6" stroke="#7a7a7a" stroke-width="1"/><line x1="308.6" x2="308.6" y1="472" y2="475.6" stroke="#7a7a7a" stroke-width="1"/><line x1="322.3" x2="322.3" y1="472" y2="475.6" stroke="#7a7a7a" stroke-width="1"/><line x1="336.4" x2="336.4" y1="472" y2="475.6" stroke="#7a7a7a" stroke-width="1"/><line x1="350.1" x2="350.1" y1="472" y2="475.6" stroke="#7a7a7a" stroke-width="1"/><line x1="364.2" x2="364.2" y1="472" y2="475.6" stroke="#7a7a7a" stroke-width="1"/><line x1="378.4" x2="378.4" y1="472" y2="475.6" stroke="#7a7a7a" stroke-width="1"/><line x1="391.1" x2="391.1" y1="472" y2="475.6" stroke="#7a7a7a" stroke-width="1"/><line x1="405.3" x2="405.3" y1="472" y2="475.6" stroke="#7a7a7a" stroke-width="1"/><line x1="419.0" x2="419.0" y1="472" y2="475.6" stroke="#7a7a7a" stroke-width="1"/><line x1="433.1" x2="433.1" y1="472" y2="475.6" stroke="#7a7a7a" stroke-width="1"/><line x1="446.8" x2="446.8" y1="472" y2="475.6" stroke="#7a7a7a" stroke-width="1"/><line x1="460.9" x2="460.9" y1="472" y2="475.6" stroke="#7a7a7a" stroke-width="1"/><line x1="475.1" x2="475.1" y1="472" y2="475.6" stroke="#7a7a7a" stroke-width="1"/><line x1="488.8" x2="488.8" y1="472" y2="475.6" stroke="#7a7a7a" stroke-width="1"/><line x1="502.9" x2="502.9" y1="472" y2="475.6" stroke="#7a7a7a" stroke-width="1"/><line x1="516.6" x2="516.6" y1="472" y2="475.6" stroke="#7a7a7a" stroke-width="1"/><line x1="530.7" x2="530.7" y1="472" y2="475.6" stroke="#7a7a7a" stroke-width="1"/><line x1="544.9" x2="544.9" y1="472" y2="475.6" stroke="#7a7a7a" stroke-width="1"/><line x1="557.7" x2="557.7" y1="472" y2="475.6" stroke="#7a7a7a" stroke-width="1"/><line x1="571.8" x2="571.8" y1="472" y2="475.6" stroke="#7a7a7a" stroke-width="1"/><line x1="585.5" x2="585.5" y1="472" y2="475.6" stroke="#7a7a7a" stroke-width="1"/><line x1="599.6" x2="599.6" y1="472" y2="475.6" stroke="#7a7a7a" stroke-width="1"/><line x1="613.3" x2="613.3" y1="472" y2="475.6" stroke="#7a7a7a" stroke-width="1"/><line x1="627.5" x2="627.5" y1="472" y2="475.6" stroke="#7a7a7a" stroke-width="1"/><line x1="641.6" x2="641.6" y1="472" y2="475.6" stroke="#7a7a7a" stroke-width="1"/><line x1="655.3" x2="655.3" y1="472" y2="475.6" stroke="#7a7a7a" stroke-width="1"/><line x1="669.4" x2="669.4" y1="472" y2="475.6" stroke="#7a7a7a" stroke-width="1"/><line x1="683.1" x2="683.1" y1="472" y2="475.6" stroke="#7a7a7a" stroke-width="1"/><line x1="697.3" x2="697.3" y1="472" y2="475.6" stroke="#7a7a7a" stroke-width="1"/><line x1="711.4" x2="711.4" y1="472" y2="475.6" stroke="#7a7a7a" stroke-width="1"/><line x1="724.2" x2="724.2" y1="472" y2="475.6" stroke="#7a7a7a" stroke-width="1"/><line x1="738.3" x2="738.3" y1="472" y2="475.6" stroke="#7a7a7a" stroke-width="1"/><line x1="752.0" x2="752.0" y1="472" y2="475.6" stroke="#7a7a7a" stroke-width="1"/><line x1="766.1" x2="766.1" y1="472" y2="475.6" stroke="#7a7a7a" stroke-width="1"/><line x1="779.8" x2="779.8" y1="472" y2="475.6" stroke="#7a7a7a" stroke-width="1"/><line x1="794.0" x2="794.0" y1="472" y2="475.6" stroke="#7a7a7a" stroke-width="1"/><line x1="808.1" x2="808.1" y1="472" y2="475.6" stroke="#7a7a7a" stroke-width="1"/><line x1="821.8" x2="821.8" y1="472" y2="475.6" stroke="#7a7a7a" stroke-width="1"/><line x1="835.9" x2="835.9" y1="472" y2="475.6" stroke="#7a7a7a" stroke-width="1"/><line x1="849.6" x2="849.6" y1="472" y2="475.6" stroke="#7a7a7a" stroke-width="1"/><line x1="863.8" x2="863.8" y1="472" y2="475.6" stroke="#7a7a7a" stroke-width="1"/><line x1="877.9" x2="877.9" y1="472" y2="475.6" stroke="#7a7a7a" stroke-width="1"/>
<text x="34" y="474.8" text-anchor="end" font-size="10" fill="#7c7c7c">0</text>
<text x="34" y="426.6" text-anchor="end" font-size="10" fill="#7c7c7c">5</text>
<text x="34" y="378.4" text-anchor="end" font-size="10" fill="#7c7c7c">10</text>
<text x="34" y="330.1" text-anchor="end" font-size="10" fill="#7c7c7c">15</text>
<text x="34" y="281.9" text-anchor="end" font-size="10" fill="#7c7c7c">20</text>
<text x="34" y="233.7" text-anchor="end" font-size="10" fill="#7c7c7c">25</text>
<text x="34" y="185.5" text-anchor="end" font-size="10" fill="#7c7c7c">30</text>
<text x="34" y="137.3" text-anchor="end" font-size="10" fill="#7c7c7c">35</text>
<text x="34" y="89.0" text-anchor="end" font-size="10" fill="#7c7c7c">40</text>
<text x="34" y="40.8" text-anchor="end" font-size="10" fill="#7c7c7c">45</text>
<text x="46.8" y="490.0" text-anchor="end" font-size="10" fill="#2a2a2a" stroke="#2a2a2a" stroke-width="0.25" transform="rotate(-45 46.8 490.0)">Feb 2011</text>
<text x="59.6" y="490.0" text-anchor="end" font-size="10" fill="#2a2a2a" stroke="#2a2a2a" stroke-width="0.25" transform="rotate(-45 59.6 490.0)">Mar 2011</text>
<text x="73.7" y="490.0" text-anchor="end" font-size="10" fill="#2a2a2a" stroke="#2a2a2a" stroke-width="0.25" transform="rotate(-45 73.7 490.0)">Apr 2011</text>
<text x="87.4" y="490.0" text-anchor="end" font-size="10" fill="#2a2a2a" stroke="#2a2a2a" stroke-width="0.25" transform="rotate(-45 87.4 490.0)">May 2011</text>
<text x="101.5" y="490.0" text-anchor="end" font-size="10" fill="#2a2a2a" stroke="#2a2a2a" stroke-width="0.25" transform="rotate(-45 101.5 490.0)">Jun 2011</text>
<text x="115.2" y="490.0" text-anchor="end" font-size="10" fill="#2a2a2a" stroke="#2a2a2a" stroke-width="0.25" transform="rotate(-45 115.2 490.0)">Jul 2011</text>
<text x="129.4" y="490.0" text-anchor="end" font-size="10" fill="#2a2a2a" stroke="#2a2a2a" stroke-width="0.25" transform="rotate(-45 129.4 490.0)">Aug 2011</text>
<text x="143.5" y="490.0" text-anchor="end" font-size="10" fill="#2a2a2a" stroke="#2a2a2a" stroke-width="0.25" transform="rotate(-45 143.5 490.0)">Sep 2011</text>
<text x="157.2" y="490.0" text-anchor="end" font-size="10" fill="#2a2a2a" stroke="#2a2a2a" stroke-width="0.25" transform="rotate(-45 157.2 490.0)">Oct 2011</text>
<text x="171.3" y="490.0" text-anchor="end" font-size="10" fill="#2a2a2a" stroke="#2a2a2a" stroke-width="0.25" transform="rotate(-45 171.3 490.0)">Nov 2011</text>
<text x="185.0" y="490.0" text-anchor="end" font-size="10" fill="#2a2a2a" stroke="#2a2a2a" stroke-width="0.25" transform="rotate(-45 185.0 490.0)">Dec 2011</text>
<text x="199.2" y="490.0" text-anchor="end" font-size="10" fill="#2a2a2a" stroke="#2a2a2a" stroke-width="0.25" transform="rotate(-45 199.2 490.0)">Jan 2012</text>
<text x="213.3" y="490.0" text-anchor="end" font-size="10" fill="#2a2a2a" stroke="#2a2a2a" stroke-width="0.25" transform="rotate(-45 213.3 490.0)">Feb 2012</text>
<text x="226.5" y="490.0" text-anchor="end" font-size="10" fill="#2a2a2a" stroke="#2a2a2a" stroke-width="0.25" transform="rotate(-45 226.5 490.0)">Mar 2012</text>
<text x="240.7" y="490.0" text-anchor="end" font-size="10" fill="#2a2a2a" stroke="#2a2a2a" stroke-width="0.25" transform="rotate(-45 240.7 490.0)">Apr 2012</text>
<text x="254.4" y="490.0" text-anchor="end" font-size="10" fill="#2a2a2a" stroke="#2a2a2a" stroke-width="0.25" transform="rotate(-45 254.4 490.0)">May 2012</text>
<text x="268.5" y="490.0" text-anchor="end" font-size="10" fill="#2a2a2a" stroke="#2a2a2a" stroke-width="0.25" transform="rotate(-45 268.5 490.0)">Jun 2012</text>
<text x="282.2" y="490.0" text-anchor="end" font-size="10" fill="#2a2a2a" stroke="#2a2a2a" stroke-width="0.25" transform="rotate(-45 282.2 490.0)">Jul 2012</text>
<text x="296.3" y="490.0" text-anchor="end" font-size="10" fill="#2a2a2a" stroke="#2a2a2a" stroke-width="0.25" transform="rotate(-45 296.3 490.0)">Aug 2012</text>
<text x="310.5" y="490.0" text-anchor="end" font-size="10" fill="#2a2a2a" stroke="#2a2a2a" stroke-width="0.25" transform="rotate(-45 310.5 490.0)">Sep 2012</text>
<text x="324.2" y="490.0" text-anchor="end" font-size="10" fill="#2a2a2a" stroke="#2a2a2a" stroke-width="0.25" transform="rotate(-45 324.2 490.0)">Oct 2012</text>
<text x="338.3" y="490.0" text-anchor="end" font-size="10" fill="#2a2a2a" stroke="#2a2a2a" stroke-width="0.25" transform="rotate(-45 338.3 490.0)">Nov 2012</text>
<text x="352.0" y="490.0" text-anchor="end" font-size="10" fill="#2a2a2a" stroke="#2a2a2a" stroke-width="0.25" transform="rotate(-45 352.0 490.0)">Dec 2012</text>
<text x="366.1" y="490.0" text-anchor="end" font-size="10" fill="#2a2a2a" stroke="#2a2a2a" stroke-width="0.25" transform="rotate(-45 366.1 490.0)">Jan 2013</text>
<text x="380.3" y="490.0" text-anchor="end" font-size="10" fill="#2a2a2a" stroke="#2a2a2a" stroke-width="0.25" transform="rotate(-45 380.3 490.0)">Feb 2013</text>
<text x="393.0" y="490.0" text-anchor="end" font-size="10" fill="#2a2a2a" stroke="#2a2a2a" stroke-width="0.25" transform="rotate(-45 393.0 490.0)">Mar 2013</text>
<text x="407.2" y="490.0" text-anchor="end" font-size="10" fill="#2a2a2a" stroke="#2a2a2a" stroke-width="0.25" transform="rotate(-45 407.2 490.0)">Apr 2013</text>
<text x="420.9" y="490.0" text-anchor="end" font-size="10" fill="#2a2a2a" stroke="#2a2a2a" stroke-width="0.25" transform="rotate(-45 420.9 490.0)">May 2013</text>
<text x="435.0" y="490.0" text-anchor="end" font-size="10" fill="#2a2a2a" stroke="#2a2a2a" stroke-width="0.25" transform="rotate(-45 435.0 490.0)">Jun 2013</text>
<text x="448.7" y="490.0" text-anchor="end" font-size="10" fill="#2a2a2a" stroke="#2a2a2a" stroke-width="0.25" transform="rotate(-45 448.7 490.0)">Jul 2013</text>
<text x="462.8" y="490.0" text-anchor="end" font-size="10" fill="#2a2a2a" stroke="#2a2a2a" stroke-width="0.25" transform="rotate(-45 462.8 490.0)">Aug 2013</text>
<text x="477.0" y="490.0" text-anchor="end" font-size="10" fill="#2a2a2a" stroke="#2a2a2a" stroke-width="0.25" transform="rotate(-45 477.0 490.0)">Sep 2013</text>
<text x="490.7" y="490.0" text-anchor="end" font-size="10" fill="#2a2a2a" stroke="#2a2a2a" stroke-width="0.25" transform="rotate(-45 490.7 490.0)">Oct 2013</text>
<text x="504.8" y="490.0" text-anchor="end" font-size="10" fill="#2a2a2a" stroke="#2a2a2a" stroke-width="0.25" transform="rotate(-45 504.8 490.0)">Nov 2013</text>
<text x="518.5" y="490.0" text-anchor="end" font-size="10" fill="#2a2a2a" stroke="#2a2a2a" stroke-width="0.25" transform="rotate(-45 518.5 490.0)">Dec 2013</text>
<text x="532.6" y="490.0" text-anchor="end" font-size="10" fill="#2a2a2a" stroke="#2a2a2a" stroke-width="0.25" transform="rotate(-45 532.6 490.0)">Jan 2014</text>
<text x="546.8" y="490.0" text-anchor="end" font-size="10" fill="#2a2a2a" stroke="#2a2a2a" stroke-width="0.25" transform="rotate(-45 546.8 490.0)">Feb 2014</text>
<text x="559.6" y="490.0" text-anchor="end" font-size="10" fill="#2a2a2a" stroke="#2a2a2a" stroke-width="0.25" transform="rotate(-45 559.6 490.0)">Mar 2014</text>
<text x="573.7" y="490.0" text-anchor="end" font-size="10" fill="#2a2a2a" stroke="#2a2a2a" stroke-width="0.25" transform="rotate(-45 573.7 490.0)">Apr 2014</text>
<text x="587.4" y="490.0" text-anchor="end" font-size="10" fill="#2a2a2a" stroke="#2a2a2a" stroke-width="0.25" transform="rotate(-45 587.4 490.0)">May 2014</text>
<text x="601.5" y="490.0" text-anchor="end" font-size="10" fill="#2a2a2a" stroke="#2a2a2a" stroke-width="0.25" transform="rotate(-45 601.5 490.0)">Jun 2014</text>
<text x="615.2" y="490.0" text-anchor="end" font-size="10" fill="#2a2a2a" stroke="#2a2a2a" stroke-width="0.25" transform="rotate(-45 615.2 490.0)">Jul 2014</text>
<text x="629.4" y="490.0" text-anchor="end" font-size="10" fill="#2a2a2a" stroke="#2a2a2a" stroke-width="0.25" transform="rotate(-45 629.4 490.0)">Aug 2014</text>
<text x="643.5" y="490.0" text-anchor="end" font-size="10" fill="#2a2a2a" stroke="#2a2a2a" stroke-width="0.25" transform="rotate(-45 643.5 490.0)">Sep 2014</text>
<text x="657.2" y="490.0" text-anchor="end" font-size="10" fill="#2a2a2a" stroke="#2a2a2a" stroke-width="0.25" transform="rotate(-45 657.2 490.0)">Oct 2014</text>
<text x="671.3" y="490.0" text-anchor="end" font-size="10" fill="#2a2a2a" stroke="#2a2a2a" stroke-width="0.25" transform="rotate(-45 671.3 490.0)">Nov 2014</text>
<text x="685.0" y="490.0" text-anchor="end" font-size="10" fill="#2a2a2a" stroke="#2a2a2a" stroke-width="0.25" transform="rotate(-45 685.0 490.0)">Dec 2014</text>
<text x="699.2" y="490.0" text-anchor="end" font-size="10" fill="#2a2a2a" stroke="#2a2a2a" stroke-width="0.25" transform="rotate(-45 699.2 490.0)">Jan 2015</text>
<text x="713.3" y="490.0" text-anchor="end" font-size="10" fill="#2a2a2a" stroke="#2a2a2a" stroke-width="0.25" transform="rotate(-45 713.3 490.0)">Feb 2015</text>
<text x="726.1" y="490.0" text-anchor="end" font-size="10" fill="#2a2a2a" stroke="#2a2a2a" stroke-width="0.25" transform="rotate(-45 726.1 490.0)">Mar 2015</text>
<text x="740.2" y="490.0" text-anchor="end" font-size="10" fill="#2a2a2a" stroke="#2a2a2a" stroke-width="0.25" transform="rotate(-45 740.2 490.0)">Apr 2015</text>
<text x="753.9" y="490.0" text-anchor="end" font-size="10" fill="#2a2a2a" stroke="#2a2a2a" stroke-width="0.25" transform="rotate(-45 753.9 490.0)">May 2015</text>
<text x="768.0" y="490.0" text-anchor="end" font-size="10" fill="#2a2a2a" stroke="#2a2a2a" stroke-width="0.25" transform="rotate(-45 768.0 490.0)">Jun 2015</text>
<text x="781.7" y="490.0" text-anchor="end" font-size="10" fill="#2a2a2a" stroke="#2a2a2a" stroke-width="0.25" transform="rotate(-45 781.7 490.0)">Jul 2015</text>
<text x="795.9" y="490.0" text-anchor="end" font-size="10" fill="#2a2a2a" stroke="#2a2a2a" stroke-width="0.25" transform="rotate(-45 795.9 490.0)">Aug 2015</text>
<text x="810.0" y="490.0" text-anchor="end" font-size="10" fill="#2a2a2a" stroke="#2a2a2a" stroke-width="0.25" transform="rotate(-45 810.0 490.0)">Sep 2015</text>
<text x="823.7" y="490.0" text-anchor="end" font-size="10" fill="#2a2a2a" stroke="#2a2a2a" stroke-width="0.25" transform="rotate(-45 823.7 490.0)">Oct 2015</text>
<text x="837.8" y="490.0" text-anchor="end" font-size="10" fill="#2a2a2a" stroke="#2a2a2a" stroke-width="0.25" transform="rotate(-45 837.8 490.0)">Nov 2015</text>
<text x="851.5" y="490.0" text-anchor="end" font-size="10" fill="#2a2a2a" stroke="#2a2a2a" stroke-width="0.25" transform="rotate(-45 851.5 490.0)">Dec 2015</text>
<text x="865.7" y="490.0" text-anchor="end" font-size="10" fill="#2a2a2a" stroke="#2a2a2a" stroke-width="0.25" transform="rotate(-45 865.7 490.0)">Jan 2016</text>
<text x="879.8" y="490.0" text-anchor="end" font-size="10" fill="#2a2a2a" stroke="#2a2a2a" stroke-width="0.25" transform="rotate(-45 879.8 490.0)">Feb 2016</text>
<circle cx="320" cy="16.8" r="1.7" fill="none" stroke="#9a9ae8" stroke-width="1"/>
<text x="325.5" y="20.6" font-size="10.4" fill="#222">FG</text>
<circle cx="350.8" cy="16.8" r="1.7" fill="none" stroke="#d8507a" stroke-width="1"/>
<text x="355.3" y="20.6" font-size="10.4" fill="#222">LAB</text>
<circle cx="387" cy="16.8" r="1.7" fill="none" stroke="#a8c0a8" stroke-width="1"/>
<text x="392.0" y="20.6" font-size="10.4" fill="#222">FF</text>
<circle cx="415.8" cy="16.8" r="1.7" fill="none" stroke="#667766" stroke-width="1"/>
<text x="421.2" y="20.6" font-size="10.4" fill="#222">SF</text>
<circle cx="445.8" cy="16.8" r="1.7" fill="none" stroke="#c0d870" stroke-width="1"/>
<text x="451.2" y="20.6" font-size="10.4" fill="#222">GP</text>
<circle cx="477" cy="16.8" r="1.7" fill="none" stroke="#e07a8a" stroke-width="1"/>
<text x="482.5" y="20.6" font-size="10.4" fill="#222">AAA-PBP</text>
<circle cx="539.7" cy="16.8" r="1.7" fill="none" stroke="#d8e090" stroke-width="1"/>
<text x="544.8" y="20.6" font-size="10.4" fill="#222">RI</text>
<circle cx="566.3" cy="16.8" r="1.7" fill="none" stroke="#8a7a9a" stroke-width="1"/>
<text x="571.5" y="20.6" font-size="10.4" fill="#222">SD</text>
</g></svg></body></html>
